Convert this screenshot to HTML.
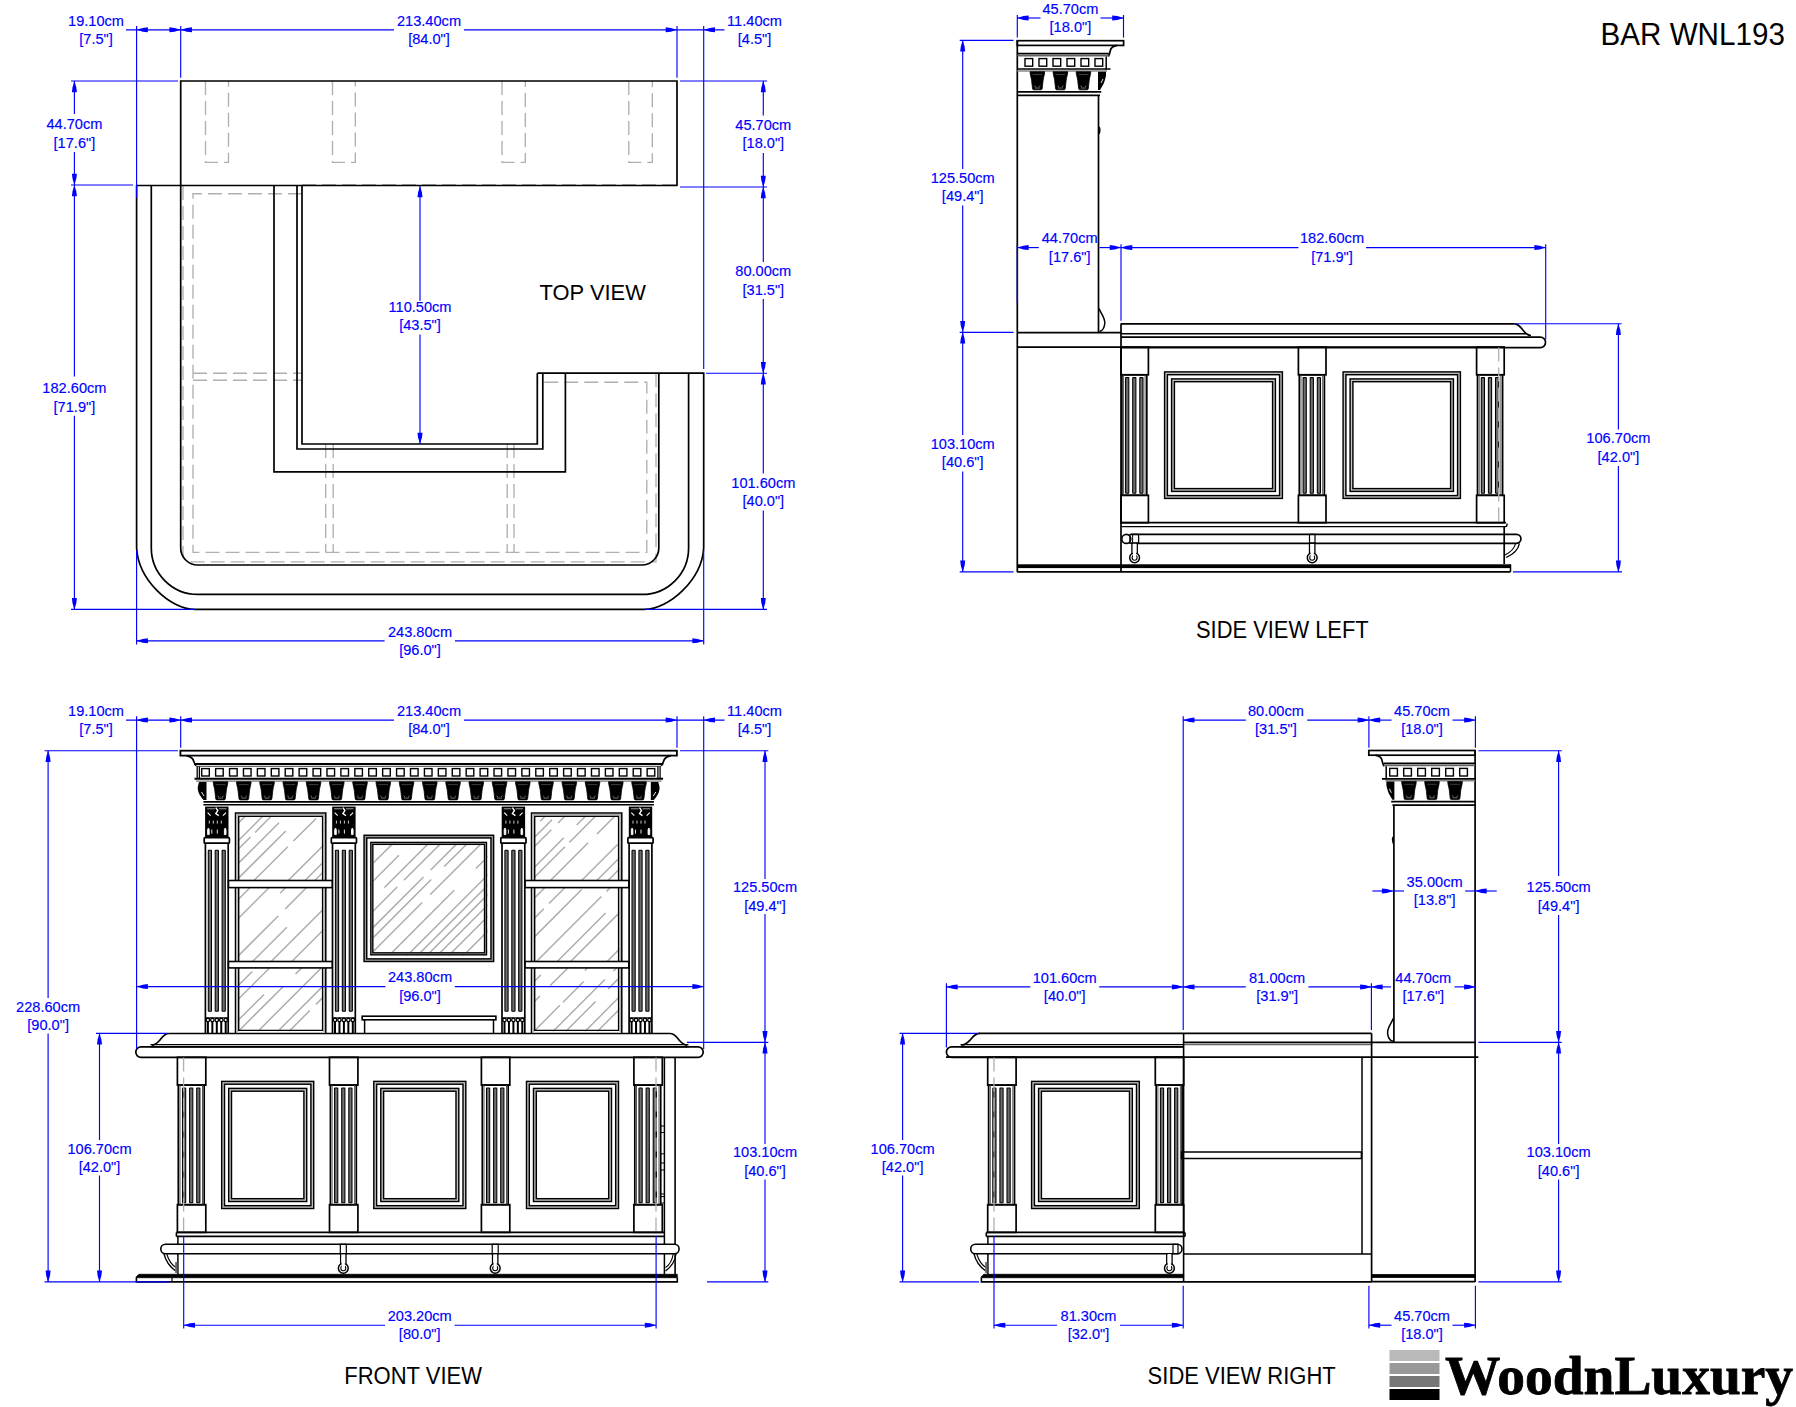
<!DOCTYPE html><html><head><meta charset="utf-8"><style>html,body{margin:0;padding:0;background:#fff;overflow:hidden}svg{display:block}</style></head><body><svg width="1796" height="1407" viewBox="0 0 1796 1407" font-family="&quot;Liberation Sans&quot;, sans-serif">
<rect width="1796" height="1407" fill="#fff"/>
<path d="M205.5,81 V162.4 H228.5 V81" stroke="#b0b0b0" stroke-width="1.35" fill="none" stroke-dasharray="14 6"/>
<path d="M332.5,81 V162.4 H355.3 V81" stroke="#b0b0b0" stroke-width="1.35" fill="none" stroke-dasharray="14 6"/>
<path d="M502,81 V162.4 H525.3 V81" stroke="#b0b0b0" stroke-width="1.35" fill="none" stroke-dasharray="14 6"/>
<path d="M628.8,81 V162.4 H652.3 V81" stroke="#b0b0b0" stroke-width="1.35" fill="none" stroke-dasharray="14 6"/>
<line x1="302.00" y1="184.60" x2="677.00" y2="184.60" stroke="#b0b0b0" stroke-width="1.35" stroke-dasharray="14 6"/>
<path d="M183,186 V553 Q183,561.8 192,561.8 H656 V373.2" stroke="#b0b0b0" stroke-width="1.35" fill="none" stroke-dasharray="14 6"/>
<path d="M302,193.7 H193 V552.3 H646.8 V382.2 H537.3" stroke="#b0b0b0" stroke-width="1.35" fill="none" stroke-dasharray="14 6"/>
<line x1="193.00" y1="373.20" x2="302.00" y2="373.20" stroke="#b0b0b0" stroke-width="1.35" stroke-dasharray="14 6"/>
<line x1="193.00" y1="380.20" x2="302.00" y2="380.20" stroke="#b0b0b0" stroke-width="1.35" stroke-dasharray="14 6"/>
<line x1="325.70" y1="444.00" x2="325.70" y2="552.30" stroke="#b0b0b0" stroke-width="1.35" stroke-dasharray="14 6"/>
<line x1="333.20" y1="444.00" x2="333.20" y2="552.30" stroke="#b0b0b0" stroke-width="1.35" stroke-dasharray="14 6"/>
<line x1="507.20" y1="444.00" x2="507.20" y2="552.30" stroke="#b0b0b0" stroke-width="1.35" stroke-dasharray="14 6"/>
<line x1="514.00" y1="444.00" x2="514.00" y2="552.30" stroke="#b0b0b0" stroke-width="1.35" stroke-dasharray="14 6"/>
<path d="M180.7,186 V81 H677 V186" stroke="#000" stroke-width="1.7" fill="none" />
<line x1="136.60" y1="185.50" x2="677.00" y2="185.50" stroke="#000" stroke-width="1.7"/>
<path d="M136.6,185 V548 C138.5,580 170,609.4 194.9,609.4 H644.3 C669,609.4 701.8,580 703.7,548 V373.2 H537.3" stroke="#000" stroke-width="1.7" fill="none" />
<path d="M151.3,185 V548 A46.5,46.5 0 0 0 197.8,594.4 H642.1 A46.5,46.5 0 0 0 688.6,547.9 V373.2" stroke="#000" stroke-width="1.7" fill="none" />
<path d="M180.7,185 V548 A17,17 0 0 0 197.7,565 H641.8 A17,17 0 0 0 658.8,548 V373.2" stroke="#000" stroke-width="1.7" fill="none" />
<path d="M274,185 V471.9 H565.4 V373.2" stroke="#000" stroke-width="1.7" fill="none" />
<path d="M297,185 V449 H542.8 V373.2" stroke="#000" stroke-width="1.7" fill="none" />
<path d="M302,185 V444 H537.3 V373.2" stroke="#000" stroke-width="1.7" fill="none" />
<text transform="translate(539.60,300.30) scale(1,1.03)" font-size="21.9" fill="#000" text-anchor="start" >TOP VIEW</text>
<line x1="1017.30" y1="40.20" x2="1017.30" y2="572.30" stroke="#000" stroke-width="1.7"/>
<rect x="1017.30" y="40.70" width="106.30" height="4.70" stroke="#000" stroke-width="1.7" fill="none"/>
<path d="M1117,45.4 C1113,46.3 1111,47.5 1110.5,50 C1110,52.5 1109.5,54.5 1108.3,56.5" stroke="#000" stroke-width="1.7" fill="none" />
<line x1="1017.30" y1="53.60" x2="1108.80" y2="53.60" stroke="#000" stroke-width="1.7"/>
<line x1="1017.30" y1="55.60" x2="1108.50" y2="55.60" stroke="#666" stroke-width="1.6"/>
<line x1="1106.20" y1="56.50" x2="1106.20" y2="69.50" stroke="#000" stroke-width="1.5"/>
<rect x="1025.00" y="58.60" width="7.70" height="7.60" stroke="#000" stroke-width="1.4" fill="none"/>
<rect x="1039.00" y="58.60" width="7.70" height="7.60" stroke="#000" stroke-width="1.4" fill="none"/>
<rect x="1053.00" y="58.60" width="7.70" height="7.60" stroke="#000" stroke-width="1.4" fill="none"/>
<rect x="1067.00" y="58.60" width="7.70" height="7.60" stroke="#000" stroke-width="1.4" fill="none"/>
<rect x="1081.00" y="58.60" width="7.70" height="7.60" stroke="#000" stroke-width="1.4" fill="none"/>
<rect x="1095.00" y="58.60" width="7.70" height="7.60" stroke="#000" stroke-width="1.4" fill="none"/>
<line x1="1017.30" y1="69.00" x2="1110.50" y2="69.00" stroke="#000" stroke-width="1.7"/>
<line x1="1017.30" y1="71.00" x2="1107.00" y2="71.00" stroke="#888" stroke-width="1.4"/>
<path d="M1030.00,71.70 H1044.70 C1044.40,75.32 1043.55,77.13 1043.05,80.75 L1042.15,88.80 Q1041.95,89.80 1040.95,89.80 H1033.75 Q1032.75,89.80 1032.55,88.80 L1031.65,80.75 C1031.15,77.13 1030.30,75.32 1030.00,71.70 Z" fill="#000" stroke="#000" stroke-width="0.8"/>
<path d="M1032.50,74.50 h9.70" stroke="#666" stroke-width="0.6"/>
<path d="M1034.35,85.80 l1.5,1 M1040.35,85.80 l-1.5,1 M1034.85,88.00 h5" stroke="#bbb" stroke-width="0.6"/>
<path d="M1053.05,71.70 H1067.75 C1067.45,75.32 1066.60,77.13 1066.10,80.75 L1065.20,88.80 Q1065.00,89.80 1064.00,89.80 H1056.80 Q1055.80,89.80 1055.60,88.80 L1054.70,80.75 C1054.20,77.13 1053.35,75.32 1053.05,71.70 Z" fill="#000" stroke="#000" stroke-width="0.8"/>
<path d="M1055.55,74.50 h9.70" stroke="#666" stroke-width="0.6"/>
<path d="M1057.40,85.80 l1.5,1 M1063.40,85.80 l-1.5,1 M1057.90,88.00 h5" stroke="#bbb" stroke-width="0.6"/>
<path d="M1076.10,71.70 H1090.80 C1090.50,75.32 1089.65,77.13 1089.15,80.75 L1088.25,88.80 Q1088.05,89.80 1087.05,89.80 H1079.85 Q1078.85,89.80 1078.65,88.80 L1077.75,80.75 C1077.25,77.13 1076.40,75.32 1076.10,71.70 Z" fill="#000" stroke="#000" stroke-width="0.8"/>
<path d="M1078.60,74.50 h9.70" stroke="#666" stroke-width="0.6"/>
<path d="M1080.45,85.80 l1.5,1 M1086.45,85.80 l-1.5,1 M1080.95,88.00 h5" stroke="#bbb" stroke-width="0.6"/>
<path d="M1098,71.7 H1106 C1106.5,76 1105,80 1103.5,84 L1100,90 H1098 Z" fill="#000"/>
<path d="M1101,83 l2,-4" stroke="#fff" stroke-width="0.9"/>
<line x1="1017.30" y1="91.80" x2="1101.20" y2="91.80" stroke="#000" stroke-width="1.7"/>
<line x1="1017.30" y1="95.30" x2="1100.00" y2="95.30" stroke="#000" stroke-width="1.7"/>
<line x1="1098.50" y1="95.30" x2="1098.50" y2="332.60" stroke="#000" stroke-width="1.7"/>
<path d="M1099,127 q1.8,1.5 0,7" stroke="#000" stroke-width="1.4" fill="none" />
<path d="M1099,308.5 C1100,312 1105.5,318 1104.8,323.5 C1104.3,328 1102,331 1099.5,331.5" stroke="#000" stroke-width="1.5" fill="none" />
<line x1="1017.30" y1="332.60" x2="1121.00" y2="332.60" stroke="#000" stroke-width="1.7"/>
<rect x="1017.3" y="564.3" width="104" height="3.8" fill="#000"/>
<line x1="1017.30" y1="571.80" x2="1121.00" y2="571.80" stroke="#000" stroke-width="1.7"/>
<line x1="1017.30" y1="347.20" x2="1505.00" y2="347.20" stroke="#000" stroke-width="1.7"/>
<line x1="1121.00" y1="323.40" x2="1121.00" y2="572.00" stroke="#000" stroke-width="1.7"/>
<path d="M1121,323.8 H1514.2" stroke="#000" stroke-width="1.7" fill="none" />
<path d="M1514.20,323.80 C1519.24,323.80 1520.92,327.89 1523.44,330.82 C1525.96,333.75 1527.64,335.50 1531.00,335.50" stroke="#000" stroke-width="1.7" fill="none" />
<line x1="1121.00" y1="333.80" x2="1527.00" y2="333.80" stroke="#000" stroke-width="1.5"/>
<path d="M1121,337.1 H1540.3 A5.25,5.25 0 0 1 1540.3,347.6 H1121" stroke="#000" stroke-width="1.7" fill="none" />
<rect x="1121.00" y="347.20" width="27.40" height="27.60" stroke="#000" stroke-width="1.7" fill="none"/>
<rect x="1121.90" y="374.80" width="24.90" height="120.50" stroke="#000" stroke-width="1.7" fill="none"/>
<rect x="1121.00" y="495.30" width="27.40" height="27.40" stroke="#000" stroke-width="1.7" fill="none"/>
<line x1="1123.60" y1="374.80" x2="1123.60" y2="495.30" stroke="#444" stroke-width="0.9"/>
<line x1="1145.10" y1="374.80" x2="1145.10" y2="495.30" stroke="#444" stroke-width="0.9"/>
<rect x="1125.60" y="377.60" width="3.20" height="115.70" rx="0.5" fill="#6e6e6e" stroke="#000" stroke-width="1.05"/>
<rect x="1132.70" y="377.60" width="3.20" height="115.70" rx="0.5" fill="#6e6e6e" stroke="#000" stroke-width="1.05"/>
<rect x="1139.80" y="377.60" width="3.20" height="115.70" rx="0.5" fill="#6e6e6e" stroke="#000" stroke-width="1.05"/>
<rect x="1298.40" y="347.20" width="27.60" height="27.60" stroke="#000" stroke-width="1.7" fill="none"/>
<rect x="1299.30" y="374.80" width="25.10" height="120.50" stroke="#000" stroke-width="1.7" fill="none"/>
<rect x="1298.40" y="495.30" width="27.60" height="27.40" stroke="#000" stroke-width="1.7" fill="none"/>
<line x1="1301.00" y1="374.80" x2="1301.00" y2="495.30" stroke="#444" stroke-width="0.9"/>
<line x1="1322.70" y1="374.80" x2="1322.70" y2="495.30" stroke="#444" stroke-width="0.9"/>
<rect x="1303.10" y="377.60" width="3.20" height="115.70" rx="0.5" fill="#6e6e6e" stroke="#000" stroke-width="1.05"/>
<rect x="1310.20" y="377.60" width="3.20" height="115.70" rx="0.5" fill="#6e6e6e" stroke="#000" stroke-width="1.05"/>
<rect x="1317.30" y="377.60" width="3.20" height="115.70" rx="0.5" fill="#6e6e6e" stroke="#000" stroke-width="1.05"/>
<rect x="1476.60" y="347.20" width="27.60" height="27.60" stroke="#000" stroke-width="1.7" fill="none"/>
<rect x="1477.50" y="374.80" width="25.10" height="120.50" stroke="#000" stroke-width="1.7" fill="none"/>
<rect x="1476.60" y="495.30" width="27.60" height="27.40" stroke="#000" stroke-width="1.7" fill="none"/>
<line x1="1479.20" y1="374.80" x2="1479.20" y2="495.30" stroke="#444" stroke-width="0.9"/>
<line x1="1500.90" y1="374.80" x2="1500.90" y2="495.30" stroke="#444" stroke-width="0.9"/>
<rect x="1481.30" y="377.60" width="3.20" height="115.70" rx="0.5" fill="#6e6e6e" stroke="#000" stroke-width="1.05"/>
<rect x="1488.40" y="377.60" width="3.20" height="115.70" rx="0.5" fill="#6e6e6e" stroke="#000" stroke-width="1.05"/>
<rect x="1495.50" y="377.60" width="3.20" height="115.70" rx="0.5" fill="#6e6e6e" stroke="#000" stroke-width="1.05"/>
<rect x="1166.00" y="373.30" width="115.00" height="123.70" fill="none" stroke="#c4c4c4" stroke-width="2.6"/>
<rect x="1173.00" y="380.30" width="101.00" height="109.70" fill="none" stroke="#c4c4c4" stroke-width="2.6"/>
<rect x="1164.60" y="371.90" width="117.80" height="126.50" stroke="#000" stroke-width="1.45" fill="none"/>
<rect x="1167.40" y="374.70" width="112.20" height="120.90" stroke="#000" stroke-width="1.45" fill="none"/>
<rect x="1171.60" y="378.90" width="103.80" height="112.50" stroke="#000" stroke-width="1.45" fill="none"/>
<rect x="1174.40" y="381.70" width="98.20" height="106.90" stroke="#000" stroke-width="1.45" fill="none"/>
<rect x="1344.50" y="373.30" width="114.50" height="123.70" fill="none" stroke="#c4c4c4" stroke-width="2.6"/>
<rect x="1351.50" y="380.30" width="100.50" height="109.70" fill="none" stroke="#c4c4c4" stroke-width="2.6"/>
<rect x="1343.10" y="371.90" width="117.30" height="126.50" stroke="#000" stroke-width="1.45" fill="none"/>
<rect x="1345.90" y="374.70" width="111.70" height="120.90" stroke="#000" stroke-width="1.45" fill="none"/>
<rect x="1350.10" y="378.90" width="103.30" height="112.50" stroke="#000" stroke-width="1.45" fill="none"/>
<rect x="1352.90" y="381.70" width="97.70" height="106.90" stroke="#000" stroke-width="1.45" fill="none"/>
<line x1="1498.70" y1="347.50" x2="1498.70" y2="522.00" stroke="#b0b0b0" stroke-width="1.3" stroke-dasharray="14 6"/>
<line x1="1121.00" y1="522.70" x2="1506.00" y2="522.70" stroke="#000" stroke-width="1.8"/>
<path d="M1121,526.6 H1505.5 q1.5,0 1.5,-2 v-1" stroke="#000" stroke-width="1.4" fill="none" />
<line x1="1504.20" y1="526.60" x2="1504.20" y2="564.00" stroke="#000" stroke-width="1.7"/>
<path d="M1131,534.4 H1516.5 A4.45,4.45 0 0 1 1516.5,543.3 H1131" stroke="#000" stroke-width="1.7" fill="none" />
<circle cx="1126.3" cy="538.9" r="4.5" fill="#fff" stroke="#000" stroke-width="1.6"/>
<rect x="1129.90" y="534.40" width="8.70" height="8.90" stroke="#000" stroke-width="1.3" fill="none"/>
<line x1="1132.60" y1="534.60" x2="1132.60" y2="543.00" stroke="#000" stroke-width="1"/>
<rect x="1131.90" y="543.30" width="5.4" height="14.50" fill="#fff" stroke="#000" stroke-width="1.3"/>
<circle cx="1134.60" cy="557.80" r="4.9" fill="#fff" stroke="#000" stroke-width="1.5"/>
<circle cx="1134.60" cy="557.80" r="2.5" fill="#fff" stroke="#000" stroke-width="1.1"/>
<rect x="1133.00" y="543.80" width="3.2" height="13.50" fill="#fff"/>
<rect x="1309.50" y="543.30" width="5.4" height="14.50" fill="#fff" stroke="#000" stroke-width="1.3"/>
<circle cx="1312.20" cy="557.80" r="4.9" fill="#fff" stroke="#000" stroke-width="1.5"/>
<circle cx="1312.20" cy="557.80" r="2.5" fill="#fff" stroke="#000" stroke-width="1.1"/>
<rect x="1310.60" y="543.80" width="3.2" height="13.50" fill="#fff"/>
<rect x="1309.50" y="534.40" width="5.50" height="8.90" stroke="#000" stroke-width="1.2" fill="none"/>
<path d="M1519.5,543.3 C1518,550 1512,555 1506,557.5" stroke="#000" stroke-width="1.3" fill="none" />
<path d="M1515.5,543.8 C1514,549 1509,553 1505,555" stroke="#000" stroke-width="1.1" fill="none" />
<rect x="1121" y="564.3" width="389.5" height="3.8" fill="#000"/>
<line x1="1121.00" y1="571.80" x2="1510.50" y2="571.80" stroke="#000" stroke-width="1.7"/>
<line x1="1510.50" y1="564.30" x2="1510.50" y2="571.80" stroke="#000" stroke-width="1.5"/>
<text transform="translate(1196.00,638.40) scale(1,1.05)" font-size="21.9" fill="#000" text-anchor="start" >SIDE VIEW LEFT</text>
<clipPath id="c11"><rect x="237.50" y="815.50" width="86.00" height="65.00"/></clipPath>
<g clip-path="url(#c11)" stroke="#acacac" stroke-width="1.45">
<path d="M218.1,828.1L230.7,815.5M180.9,880.5L229.0,832.3M232.6,828.8L245.9,815.5M232.5,846.5L263.5,815.5M206.9,880.5L250.5,837.0M255.1,832.4L271.9,815.5M221.1,880.5L279.0,822.7M236.1,880.5L285.8,830.9M253.9,880.5L287.8,846.7M293.4,841.0L316.1,818.4M322.1,832.0L338.6,815.5M288.2,880.5L352.3,816.4M305.0,880.5L359.9,825.6M314.8,880.5L345.5,849.8M348.7,846.6L379.8,815.5" fill="none"/>
</g>
<clipPath id="c21"><rect x="237.50" y="887.60" width="86.00" height="73.90"/></clipPath>
<g clip-path="url(#c21)" stroke="#acacac" stroke-width="1.45">
<path d="M161.1,961.5L219.0,903.6M227.6,895.0L235.0,887.6M176.3,961.5L224.6,913.2M227.6,910.2L250.2,887.6M195.3,961.5L229.4,927.3M232.9,923.9L269.2,887.6M211.8,961.5L235.8,937.6M280.1,893.3L285.7,887.6M232.6,961.5L278.2,915.9M285.2,908.9L306.5,887.6M252.5,961.5L286.9,927.2M271.1,961.5L323.3,909.3M327.7,904.9L345.0,887.6M291.8,961.5L359.9,893.4M355.8,911.8L379.4,888.3" fill="none"/>
</g>
<clipPath id="c31"><rect x="237.50" y="967.90" width="86.00" height="63.50"/></clipPath>
<g clip-path="url(#c31)" stroke="#acacac" stroke-width="1.45">
<path d="M173.8,1031.4L197.9,1007.4M207.4,997.9L232.6,972.7M192.3,1031.4L217.9,1005.8M227.2,996.5L252.3,971.4M206.1,1031.4L269.5,968.1M227.1,1031.4L264.0,994.4M238.2,1031.4L283.3,986.4M295.5,974.1L301.7,967.9M257.8,1031.4L320.8,968.4M277.7,1031.4L325.7,983.4M336.4,972.8L341.2,967.9M289.0,1031.4L309.8,1010.5M315.8,1004.6L352.4,967.9M322.6,1031.4L349.5,1004.5M357.5,996.4L386.1,967.9" fill="none"/>
</g>
<clipPath id="c12"><rect x="533.80" y="815.50" width="85.80" height="65.00"/></clipPath>
<g clip-path="url(#c12)" stroke="#acacac" stroke-width="1.45">
<path d="M461.7,880.5L511.1,831.1M515.2,827.0L526.7,815.5M480.9,880.5L531.8,829.6M540.2,821.2L545.9,815.5M491.3,880.5L552.0,819.8M500.6,880.5L551.3,829.7M558.1,822.9L565.6,815.5M521.2,880.5L563.8,837.8M576.7,825.0L586.2,815.5M531.2,880.5L565.0,846.8M569.3,842.5L596.2,815.5M550.5,880.5L588.2,842.8M597.0,834.0L615.5,815.5M581.6,880.5L617.6,844.5M627.3,834.9L646.6,815.5M596.8,880.5L653.1,824.1M656.0,821.2L661.8,815.5M608.0,880.5L647.0,841.6M657.6,830.9L673.0,815.5" fill="none"/>
</g>
<clipPath id="c22"><rect x="533.80" y="887.60" width="85.80" height="73.90"/></clipPath>
<g clip-path="url(#c22)" stroke="#acacac" stroke-width="1.45">
<path d="M445.5,961.5L475.0,932.1M489.7,917.3L519.4,887.6M458.4,961.5L526.6,893.3M535.3,897.2L544.9,887.6M491.2,961.5L543.8,908.8M549.0,903.6L565.1,887.6M509.9,961.5L581.7,889.6M536.5,961.5L601.4,896.6M606.5,891.5L610.4,887.6M557.3,961.5L605.6,913.1M570.6,961.5L622.9,909.2M632.9,899.2L644.5,887.6M619.8,927.6L659.9,887.6M607.1,961.5L655.7,912.8M659.8,908.7L681.0,887.6" fill="none"/>
</g>
<clipPath id="c32"><rect x="533.80" y="967.90" width="85.80" height="63.50"/></clipPath>
<g clip-path="url(#c32)" stroke="#acacac" stroke-width="1.45">
<path d="M469.1,1031.4L497.7,1002.9M509.4,991.2L532.6,967.9M484.3,1031.4L540.8,974.9M504.4,1031.4L540.0,995.9M550.2,985.6L567.9,967.9M584.9,970.6L587.5,967.9M533.8,1031.4L559.9,1005.3M563.0,1002.2L583.7,981.5M553.0,1031.4L604.9,979.5M613.3,971.1L616.5,967.9M565.7,1031.4L595.6,1001.5M608.2,988.9L629.2,967.9M585.0,1031.4L623.8,992.5M627.3,989.1L648.5,967.9M597.3,1031.4L633.4,995.3M670.6,979.2L681.9,967.9" fill="none"/>
</g>
<clipPath id="c13"><rect x="369.80" y="841.40" width="117.70" height="114.40"/></clipPath>
<g clip-path="url(#c13)" stroke="#acacac" stroke-width="1.45">
<path d="M251.8,955.8L341.0,866.6M361.1,846.5L366.2,841.4M262.3,955.8L355.4,862.7M369.7,848.4L376.7,841.4M280.6,955.8L363.6,872.8M373.2,863.1L395.0,841.4M298.4,955.8L398.9,855.3M316.1,955.8L371.0,900.9M384.5,887.4L430.5,841.4M328.4,955.8L397.2,887.1M403.9,880.3L442.8,841.4M344.8,955.8L423.5,877.1M430.6,870.1L459.2,841.4M355.1,955.8L431.2,879.6M444.2,866.6L469.5,841.4M369.0,955.8L422.1,902.6M430.3,894.5L483.4,841.4M388.7,955.8L454.2,890.3M475.9,868.6L503.1,841.4M406.9,955.8L492.4,870.3M417.2,955.8L519.9,853.1M426.6,955.8L538.7,843.7M437.0,955.8L520.7,872.1M536.1,856.7L551.4,841.4M448.4,955.8L495.9,908.3M502.5,901.7L554.9,849.3M463.1,955.8L540.9,878.0M553.6,865.3L577.5,841.4M483.4,955.8L527.4,911.7M536.9,902.3L597.8,841.4" fill="none"/>
</g>
<rect x="180.40" y="750.70" width="496.50" height="4.90" stroke="#000" stroke-width="1.8" fill="none"/>
<path d="M186.5,755.6 C190,756.5 192,757.5 193,759.5 C194,761.5 194.5,764 196,765.8" stroke="#000" stroke-width="1.7" fill="none" />
<path d="M670.8,755.6 C667.3,756.5 665.3,757.5 664.3,759.5 C663.3,761.5 662.8,764 661.3,765.8" stroke="#000" stroke-width="1.7" fill="none" />
<line x1="194.00" y1="764.00" x2="663.30" y2="764.00" stroke="#000" stroke-width="1.9"/>
<line x1="196.00" y1="766.40" x2="661.30" y2="766.40" stroke="#666" stroke-width="1.2"/>
<line x1="197.20" y1="766.50" x2="197.20" y2="778.00" stroke="#000" stroke-width="1.3"/>
<line x1="199.40" y1="766.50" x2="199.40" y2="778.00" stroke="#000" stroke-width="1.3"/>
<line x1="660.10" y1="766.50" x2="660.10" y2="778.00" stroke="#000" stroke-width="1.3"/>
<line x1="657.90" y1="766.50" x2="657.90" y2="778.00" stroke="#000" stroke-width="1.3"/>
<rect x="201.70" y="768.60" width="7.60" height="7.40" stroke="#000" stroke-width="1.4" fill="none"/>
<rect x="215.62" y="768.60" width="7.60" height="7.40" stroke="#000" stroke-width="1.4" fill="none"/>
<rect x="229.54" y="768.60" width="7.60" height="7.40" stroke="#000" stroke-width="1.4" fill="none"/>
<rect x="243.46" y="768.60" width="7.60" height="7.40" stroke="#000" stroke-width="1.4" fill="none"/>
<rect x="257.38" y="768.60" width="7.60" height="7.40" stroke="#000" stroke-width="1.4" fill="none"/>
<rect x="271.30" y="768.60" width="7.60" height="7.40" stroke="#000" stroke-width="1.4" fill="none"/>
<rect x="285.22" y="768.60" width="7.60" height="7.40" stroke="#000" stroke-width="1.4" fill="none"/>
<rect x="299.14" y="768.60" width="7.60" height="7.40" stroke="#000" stroke-width="1.4" fill="none"/>
<rect x="313.06" y="768.60" width="7.60" height="7.40" stroke="#000" stroke-width="1.4" fill="none"/>
<rect x="326.98" y="768.60" width="7.60" height="7.40" stroke="#000" stroke-width="1.4" fill="none"/>
<rect x="340.90" y="768.60" width="7.60" height="7.40" stroke="#000" stroke-width="1.4" fill="none"/>
<rect x="354.82" y="768.60" width="7.60" height="7.40" stroke="#000" stroke-width="1.4" fill="none"/>
<rect x="368.74" y="768.60" width="7.60" height="7.40" stroke="#000" stroke-width="1.4" fill="none"/>
<rect x="382.66" y="768.60" width="7.60" height="7.40" stroke="#000" stroke-width="1.4" fill="none"/>
<rect x="396.58" y="768.60" width="7.60" height="7.40" stroke="#000" stroke-width="1.4" fill="none"/>
<rect x="410.50" y="768.60" width="7.60" height="7.40" stroke="#000" stroke-width="1.4" fill="none"/>
<rect x="424.42" y="768.60" width="7.60" height="7.40" stroke="#000" stroke-width="1.4" fill="none"/>
<rect x="438.34" y="768.60" width="7.60" height="7.40" stroke="#000" stroke-width="1.4" fill="none"/>
<rect x="452.26" y="768.60" width="7.60" height="7.40" stroke="#000" stroke-width="1.4" fill="none"/>
<rect x="466.18" y="768.60" width="7.60" height="7.40" stroke="#000" stroke-width="1.4" fill="none"/>
<rect x="480.10" y="768.60" width="7.60" height="7.40" stroke="#000" stroke-width="1.4" fill="none"/>
<rect x="494.02" y="768.60" width="7.60" height="7.40" stroke="#000" stroke-width="1.4" fill="none"/>
<rect x="507.94" y="768.60" width="7.60" height="7.40" stroke="#000" stroke-width="1.4" fill="none"/>
<rect x="521.86" y="768.60" width="7.60" height="7.40" stroke="#000" stroke-width="1.4" fill="none"/>
<rect x="535.78" y="768.60" width="7.60" height="7.40" stroke="#000" stroke-width="1.4" fill="none"/>
<rect x="549.70" y="768.60" width="7.60" height="7.40" stroke="#000" stroke-width="1.4" fill="none"/>
<rect x="563.62" y="768.60" width="7.60" height="7.40" stroke="#000" stroke-width="1.4" fill="none"/>
<rect x="577.54" y="768.60" width="7.60" height="7.40" stroke="#000" stroke-width="1.4" fill="none"/>
<rect x="591.46" y="768.60" width="7.60" height="7.40" stroke="#000" stroke-width="1.4" fill="none"/>
<rect x="605.38" y="768.60" width="7.60" height="7.40" stroke="#000" stroke-width="1.4" fill="none"/>
<rect x="619.30" y="768.60" width="7.60" height="7.40" stroke="#000" stroke-width="1.4" fill="none"/>
<rect x="633.22" y="768.60" width="7.60" height="7.40" stroke="#000" stroke-width="1.4" fill="none"/>
<rect x="647.14" y="768.60" width="7.60" height="7.40" stroke="#000" stroke-width="1.4" fill="none"/>
<line x1="194.50" y1="778.70" x2="663.00" y2="778.70" stroke="#000" stroke-width="2.0"/>
<line x1="196.00" y1="781.10" x2="661.50" y2="781.10" stroke="#777" stroke-width="1.3"/>
<path d="M213.20,781.80 H227.90 C227.60,785.42 226.75,787.23 226.25,790.85 L225.35,798.90 Q225.15,799.90 224.15,799.90 H216.95 Q215.95,799.90 215.75,798.90 L214.85,790.85 C214.35,787.23 213.50,785.42 213.20,781.80 Z" fill="#000" stroke="#000" stroke-width="0.8"/>
<path d="M215.70,784.60 h9.70" stroke="#666" stroke-width="0.6"/>
<path d="M217.55,795.90 l1.5,1 M223.55,795.90 l-1.5,1 M218.05,798.10 h5" stroke="#bbb" stroke-width="0.6"/>
<path d="M236.45,781.80 H251.15 C250.85,785.42 250.00,787.23 249.50,790.85 L248.60,798.90 Q248.40,799.90 247.40,799.90 H240.20 Q239.20,799.90 239.00,798.90 L238.10,790.85 C237.60,787.23 236.75,785.42 236.45,781.80 Z" fill="#000" stroke="#000" stroke-width="0.8"/>
<path d="M238.95,784.60 h9.70" stroke="#666" stroke-width="0.6"/>
<path d="M240.80,795.90 l1.5,1 M246.80,795.90 l-1.5,1 M241.30,798.10 h5" stroke="#bbb" stroke-width="0.6"/>
<path d="M259.70,781.80 H274.40 C274.10,785.42 273.25,787.23 272.75,790.85 L271.85,798.90 Q271.65,799.90 270.65,799.90 H263.45 Q262.45,799.90 262.25,798.90 L261.35,790.85 C260.85,787.23 260.00,785.42 259.70,781.80 Z" fill="#000" stroke="#000" stroke-width="0.8"/>
<path d="M262.20,784.60 h9.70" stroke="#666" stroke-width="0.6"/>
<path d="M264.05,795.90 l1.5,1 M270.05,795.90 l-1.5,1 M264.55,798.10 h5" stroke="#bbb" stroke-width="0.6"/>
<path d="M282.95,781.80 H297.65 C297.35,785.42 296.50,787.23 296.00,790.85 L295.10,798.90 Q294.90,799.90 293.90,799.90 H286.70 Q285.70,799.90 285.50,798.90 L284.60,790.85 C284.10,787.23 283.25,785.42 282.95,781.80 Z" fill="#000" stroke="#000" stroke-width="0.8"/>
<path d="M285.45,784.60 h9.70" stroke="#666" stroke-width="0.6"/>
<path d="M287.30,795.90 l1.5,1 M293.30,795.90 l-1.5,1 M287.80,798.10 h5" stroke="#bbb" stroke-width="0.6"/>
<path d="M306.20,781.80 H320.90 C320.60,785.42 319.75,787.23 319.25,790.85 L318.35,798.90 Q318.15,799.90 317.15,799.90 H309.95 Q308.95,799.90 308.75,798.90 L307.85,790.85 C307.35,787.23 306.50,785.42 306.20,781.80 Z" fill="#000" stroke="#000" stroke-width="0.8"/>
<path d="M308.70,784.60 h9.70" stroke="#666" stroke-width="0.6"/>
<path d="M310.55,795.90 l1.5,1 M316.55,795.90 l-1.5,1 M311.05,798.10 h5" stroke="#bbb" stroke-width="0.6"/>
<path d="M329.45,781.80 H344.15 C343.85,785.42 343.00,787.23 342.50,790.85 L341.60,798.90 Q341.40,799.90 340.40,799.90 H333.20 Q332.20,799.90 332.00,798.90 L331.10,790.85 C330.60,787.23 329.75,785.42 329.45,781.80 Z" fill="#000" stroke="#000" stroke-width="0.8"/>
<path d="M331.95,784.60 h9.70" stroke="#666" stroke-width="0.6"/>
<path d="M333.80,795.90 l1.5,1 M339.80,795.90 l-1.5,1 M334.30,798.10 h5" stroke="#bbb" stroke-width="0.6"/>
<path d="M352.70,781.80 H367.40 C367.10,785.42 366.25,787.23 365.75,790.85 L364.85,798.90 Q364.65,799.90 363.65,799.90 H356.45 Q355.45,799.90 355.25,798.90 L354.35,790.85 C353.85,787.23 353.00,785.42 352.70,781.80 Z" fill="#000" stroke="#000" stroke-width="0.8"/>
<path d="M355.20,784.60 h9.70" stroke="#666" stroke-width="0.6"/>
<path d="M357.05,795.90 l1.5,1 M363.05,795.90 l-1.5,1 M357.55,798.10 h5" stroke="#bbb" stroke-width="0.6"/>
<path d="M375.95,781.80 H390.65 C390.35,785.42 389.50,787.23 389.00,790.85 L388.10,798.90 Q387.90,799.90 386.90,799.90 H379.70 Q378.70,799.90 378.50,798.90 L377.60,790.85 C377.10,787.23 376.25,785.42 375.95,781.80 Z" fill="#000" stroke="#000" stroke-width="0.8"/>
<path d="M378.45,784.60 h9.70" stroke="#666" stroke-width="0.6"/>
<path d="M380.30,795.90 l1.5,1 M386.30,795.90 l-1.5,1 M380.80,798.10 h5" stroke="#bbb" stroke-width="0.6"/>
<path d="M399.20,781.80 H413.90 C413.60,785.42 412.75,787.23 412.25,790.85 L411.35,798.90 Q411.15,799.90 410.15,799.90 H402.95 Q401.95,799.90 401.75,798.90 L400.85,790.85 C400.35,787.23 399.50,785.42 399.20,781.80 Z" fill="#000" stroke="#000" stroke-width="0.8"/>
<path d="M401.70,784.60 h9.70" stroke="#666" stroke-width="0.6"/>
<path d="M403.55,795.90 l1.5,1 M409.55,795.90 l-1.5,1 M404.05,798.10 h5" stroke="#bbb" stroke-width="0.6"/>
<path d="M422.45,781.80 H437.15 C436.85,785.42 436.00,787.23 435.50,790.85 L434.60,798.90 Q434.40,799.90 433.40,799.90 H426.20 Q425.20,799.90 425.00,798.90 L424.10,790.85 C423.60,787.23 422.75,785.42 422.45,781.80 Z" fill="#000" stroke="#000" stroke-width="0.8"/>
<path d="M424.95,784.60 h9.70" stroke="#666" stroke-width="0.6"/>
<path d="M426.80,795.90 l1.5,1 M432.80,795.90 l-1.5,1 M427.30,798.10 h5" stroke="#bbb" stroke-width="0.6"/>
<path d="M445.70,781.80 H460.40 C460.10,785.42 459.25,787.23 458.75,790.85 L457.85,798.90 Q457.65,799.90 456.65,799.90 H449.45 Q448.45,799.90 448.25,798.90 L447.35,790.85 C446.85,787.23 446.00,785.42 445.70,781.80 Z" fill="#000" stroke="#000" stroke-width="0.8"/>
<path d="M448.20,784.60 h9.70" stroke="#666" stroke-width="0.6"/>
<path d="M450.05,795.90 l1.5,1 M456.05,795.90 l-1.5,1 M450.55,798.10 h5" stroke="#bbb" stroke-width="0.6"/>
<path d="M468.95,781.80 H483.65 C483.35,785.42 482.50,787.23 482.00,790.85 L481.10,798.90 Q480.90,799.90 479.90,799.90 H472.70 Q471.70,799.90 471.50,798.90 L470.60,790.85 C470.10,787.23 469.25,785.42 468.95,781.80 Z" fill="#000" stroke="#000" stroke-width="0.8"/>
<path d="M471.45,784.60 h9.70" stroke="#666" stroke-width="0.6"/>
<path d="M473.30,795.90 l1.5,1 M479.30,795.90 l-1.5,1 M473.80,798.10 h5" stroke="#bbb" stroke-width="0.6"/>
<path d="M492.20,781.80 H506.90 C506.60,785.42 505.75,787.23 505.25,790.85 L504.35,798.90 Q504.15,799.90 503.15,799.90 H495.95 Q494.95,799.90 494.75,798.90 L493.85,790.85 C493.35,787.23 492.50,785.42 492.20,781.80 Z" fill="#000" stroke="#000" stroke-width="0.8"/>
<path d="M494.70,784.60 h9.70" stroke="#666" stroke-width="0.6"/>
<path d="M496.55,795.90 l1.5,1 M502.55,795.90 l-1.5,1 M497.05,798.10 h5" stroke="#bbb" stroke-width="0.6"/>
<path d="M515.45,781.80 H530.15 C529.85,785.42 529.00,787.23 528.50,790.85 L527.60,798.90 Q527.40,799.90 526.40,799.90 H519.20 Q518.20,799.90 518.00,798.90 L517.10,790.85 C516.60,787.23 515.75,785.42 515.45,781.80 Z" fill="#000" stroke="#000" stroke-width="0.8"/>
<path d="M517.95,784.60 h9.70" stroke="#666" stroke-width="0.6"/>
<path d="M519.80,795.90 l1.5,1 M525.80,795.90 l-1.5,1 M520.30,798.10 h5" stroke="#bbb" stroke-width="0.6"/>
<path d="M538.70,781.80 H553.40 C553.10,785.42 552.25,787.23 551.75,790.85 L550.85,798.90 Q550.65,799.90 549.65,799.90 H542.45 Q541.45,799.90 541.25,798.90 L540.35,790.85 C539.85,787.23 539.00,785.42 538.70,781.80 Z" fill="#000" stroke="#000" stroke-width="0.8"/>
<path d="M541.20,784.60 h9.70" stroke="#666" stroke-width="0.6"/>
<path d="M543.05,795.90 l1.5,1 M549.05,795.90 l-1.5,1 M543.55,798.10 h5" stroke="#bbb" stroke-width="0.6"/>
<path d="M561.95,781.80 H576.65 C576.35,785.42 575.50,787.23 575.00,790.85 L574.10,798.90 Q573.90,799.90 572.90,799.90 H565.70 Q564.70,799.90 564.50,798.90 L563.60,790.85 C563.10,787.23 562.25,785.42 561.95,781.80 Z" fill="#000" stroke="#000" stroke-width="0.8"/>
<path d="M564.45,784.60 h9.70" stroke="#666" stroke-width="0.6"/>
<path d="M566.30,795.90 l1.5,1 M572.30,795.90 l-1.5,1 M566.80,798.10 h5" stroke="#bbb" stroke-width="0.6"/>
<path d="M585.20,781.80 H599.90 C599.60,785.42 598.75,787.23 598.25,790.85 L597.35,798.90 Q597.15,799.90 596.15,799.90 H588.95 Q587.95,799.90 587.75,798.90 L586.85,790.85 C586.35,787.23 585.50,785.42 585.20,781.80 Z" fill="#000" stroke="#000" stroke-width="0.8"/>
<path d="M587.70,784.60 h9.70" stroke="#666" stroke-width="0.6"/>
<path d="M589.55,795.90 l1.5,1 M595.55,795.90 l-1.5,1 M590.05,798.10 h5" stroke="#bbb" stroke-width="0.6"/>
<path d="M608.45,781.80 H623.15 C622.85,785.42 622.00,787.23 621.50,790.85 L620.60,798.90 Q620.40,799.90 619.40,799.90 H612.20 Q611.20,799.90 611.00,798.90 L610.10,790.85 C609.60,787.23 608.75,785.42 608.45,781.80 Z" fill="#000" stroke="#000" stroke-width="0.8"/>
<path d="M610.95,784.60 h9.70" stroke="#666" stroke-width="0.6"/>
<path d="M612.80,795.90 l1.5,1 M618.80,795.90 l-1.5,1 M613.30,798.10 h5" stroke="#bbb" stroke-width="0.6"/>
<path d="M631.70,781.80 H646.40 C646.10,785.42 645.25,787.23 644.75,790.85 L643.85,798.90 Q643.65,799.90 642.65,799.90 H635.45 Q634.45,799.90 634.25,798.90 L633.35,790.85 C632.85,787.23 632.00,785.42 631.70,781.80 Z" fill="#000" stroke="#000" stroke-width="0.8"/>
<path d="M634.20,784.60 h9.70" stroke="#666" stroke-width="0.6"/>
<path d="M636.05,795.90 l1.5,1 M642.05,795.90 l-1.5,1 M636.55,798.10 h5" stroke="#bbb" stroke-width="0.6"/>
<path d="M199,782 H206.5 V800 H203.5 C199,795 197,790 198,786 Z" fill="#000"/>
<path d="M658.3,782 H650.8 V800 H653.8 C658.3,795 660.3,790 659.3,786 Z" fill="#000"/>
<path d="M201.5,792 l2.5,4 M655.8,792 l-2.5,4" stroke="#fff" stroke-width="0.9"/>
<line x1="203.40" y1="801.90" x2="653.90" y2="801.90" stroke="#000" stroke-width="1.8"/>
<line x1="203.40" y1="804.70" x2="653.90" y2="804.70" stroke="#000" stroke-width="1.6"/>
<rect x="205.10" y="806.60" width="23.40" height="31.80" fill="#000"/>
<path d="M207.10,808.80 h7.72 M218.78,808.80 h7.72" stroke="#ccc" stroke-width="0.8"/>
<path d="M215.80,807.60 l2,3 l-2,3 l3,2" stroke="#fff" stroke-width="1.4" fill="none"/>
<path d="M207.60,812.60 l3,3 M226.00,812.60 l-3,3" stroke="#fff" stroke-width="1.1"/>
<path d="M209.30,820.60 v3" stroke="#fff" stroke-width="0.8"/>
<path d="M213.30,820.60 v3" stroke="#fff" stroke-width="0.8"/>
<path d="M217.30,820.60 v3" stroke="#fff" stroke-width="0.8"/>
<path d="M221.30,820.60 v3" stroke="#fff" stroke-width="0.8"/>
<path d="M207.60,829.60 q0.8,-3 1.6,0 v5 h-1.6 z M226.00,829.60 q-0.8,-3 -1.6,0 v5 h1.6 z M211.80,829.60 v4 M217.30,829.60 v4" stroke="#fff" stroke-width="0.9" fill="#fff"/>
<rect x="204.20" y="837.6" width="25.20" height="5.6" rx="0.8" fill="#fff" stroke="#000" stroke-width="1.7"/>
<line x1="205.40" y1="843.20" x2="205.40" y2="1033.50" stroke="#000" stroke-width="1.7"/>
<line x1="228.20" y1="843.20" x2="228.20" y2="1033.50" stroke="#000" stroke-width="1.7"/>
<rect x="208.30" y="850.20" width="3.20" height="161.10" rx="0.5" fill="#6e6e6e" stroke="#000" stroke-width="1.05"/>
<rect x="215.20" y="850.20" width="3.20" height="161.10" rx="0.5" fill="#6e6e6e" stroke="#000" stroke-width="1.05"/>
<rect x="222.10" y="850.20" width="3.20" height="161.10" rx="0.5" fill="#6e6e6e" stroke="#000" stroke-width="1.05"/>
<line x1="207.90" y1="1021.50" x2="207.90" y2="1033.50" stroke="#000" stroke-width="2.0"/>
<circle cx="207.90" cy="1020.0" r="1.75" fill="#fff" stroke="#000" stroke-width="1.3"/>
<line x1="212.35" y1="1021.50" x2="212.35" y2="1033.50" stroke="#000" stroke-width="2.0"/>
<circle cx="212.35" cy="1020.0" r="1.75" fill="#fff" stroke="#000" stroke-width="1.3"/>
<line x1="216.80" y1="1021.50" x2="216.80" y2="1033.50" stroke="#000" stroke-width="2.0"/>
<circle cx="216.80" cy="1020.0" r="1.75" fill="#fff" stroke="#000" stroke-width="1.3"/>
<line x1="221.25" y1="1021.50" x2="221.25" y2="1033.50" stroke="#000" stroke-width="2.0"/>
<circle cx="221.25" cy="1020.0" r="1.75" fill="#fff" stroke="#000" stroke-width="1.3"/>
<line x1="225.70" y1="1021.50" x2="225.70" y2="1033.50" stroke="#000" stroke-width="2.0"/>
<circle cx="225.70" cy="1020.0" r="1.75" fill="#fff" stroke="#000" stroke-width="1.3"/>
<line x1="205.10" y1="1017.80" x2="228.50" y2="1017.80" stroke="#000" stroke-width="1.0"/>
<rect x="332.20" y="806.60" width="23.40" height="31.80" fill="#000"/>
<path d="M334.20,808.80 h7.72 M345.88,808.80 h7.72" stroke="#ccc" stroke-width="0.8"/>
<path d="M342.90,807.60 l2,3 l-2,3 l3,2" stroke="#fff" stroke-width="1.4" fill="none"/>
<path d="M334.70,812.60 l3,3 M353.10,812.60 l-3,3" stroke="#fff" stroke-width="1.1"/>
<path d="M336.40,820.60 v3" stroke="#fff" stroke-width="0.8"/>
<path d="M340.40,820.60 v3" stroke="#fff" stroke-width="0.8"/>
<path d="M344.40,820.60 v3" stroke="#fff" stroke-width="0.8"/>
<path d="M348.40,820.60 v3" stroke="#fff" stroke-width="0.8"/>
<path d="M334.70,829.60 q0.8,-3 1.6,0 v5 h-1.6 z M353.10,829.60 q-0.8,-3 -1.6,0 v5 h1.6 z M338.90,829.60 v4 M344.40,829.60 v4" stroke="#fff" stroke-width="0.9" fill="#fff"/>
<rect x="331.30" y="837.6" width="25.20" height="5.6" rx="0.8" fill="#fff" stroke="#000" stroke-width="1.7"/>
<line x1="332.50" y1="843.20" x2="332.50" y2="1033.50" stroke="#000" stroke-width="1.7"/>
<line x1="355.30" y1="843.20" x2="355.30" y2="1033.50" stroke="#000" stroke-width="1.7"/>
<rect x="335.40" y="850.20" width="3.20" height="161.10" rx="0.5" fill="#6e6e6e" stroke="#000" stroke-width="1.05"/>
<rect x="342.30" y="850.20" width="3.20" height="161.10" rx="0.5" fill="#6e6e6e" stroke="#000" stroke-width="1.05"/>
<rect x="349.20" y="850.20" width="3.20" height="161.10" rx="0.5" fill="#6e6e6e" stroke="#000" stroke-width="1.05"/>
<line x1="335.00" y1="1021.50" x2="335.00" y2="1033.50" stroke="#000" stroke-width="2.0"/>
<circle cx="335.00" cy="1020.0" r="1.75" fill="#fff" stroke="#000" stroke-width="1.3"/>
<line x1="339.45" y1="1021.50" x2="339.45" y2="1033.50" stroke="#000" stroke-width="2.0"/>
<circle cx="339.45" cy="1020.0" r="1.75" fill="#fff" stroke="#000" stroke-width="1.3"/>
<line x1="343.90" y1="1021.50" x2="343.90" y2="1033.50" stroke="#000" stroke-width="2.0"/>
<circle cx="343.90" cy="1020.0" r="1.75" fill="#fff" stroke="#000" stroke-width="1.3"/>
<line x1="348.35" y1="1021.50" x2="348.35" y2="1033.50" stroke="#000" stroke-width="2.0"/>
<circle cx="348.35" cy="1020.0" r="1.75" fill="#fff" stroke="#000" stroke-width="1.3"/>
<line x1="352.80" y1="1021.50" x2="352.80" y2="1033.50" stroke="#000" stroke-width="2.0"/>
<circle cx="352.80" cy="1020.0" r="1.75" fill="#fff" stroke="#000" stroke-width="1.3"/>
<line x1="332.20" y1="1017.80" x2="355.60" y2="1017.80" stroke="#000" stroke-width="1.0"/>
<rect x="501.70" y="806.60" width="23.40" height="31.80" fill="#000"/>
<path d="M503.70,808.80 h7.72 M515.38,808.80 h7.72" stroke="#ccc" stroke-width="0.8"/>
<path d="M512.40,807.60 l2,3 l-2,3 l3,2" stroke="#fff" stroke-width="1.4" fill="none"/>
<path d="M504.20,812.60 l3,3 M522.60,812.60 l-3,3" stroke="#fff" stroke-width="1.1"/>
<path d="M505.90,820.60 v3" stroke="#fff" stroke-width="0.8"/>
<path d="M509.90,820.60 v3" stroke="#fff" stroke-width="0.8"/>
<path d="M513.90,820.60 v3" stroke="#fff" stroke-width="0.8"/>
<path d="M517.90,820.60 v3" stroke="#fff" stroke-width="0.8"/>
<path d="M504.20,829.60 q0.8,-3 1.6,0 v5 h-1.6 z M522.60,829.60 q-0.8,-3 -1.6,0 v5 h1.6 z M508.40,829.60 v4 M513.90,829.60 v4" stroke="#fff" stroke-width="0.9" fill="#fff"/>
<rect x="500.80" y="837.6" width="25.20" height="5.6" rx="0.8" fill="#fff" stroke="#000" stroke-width="1.7"/>
<line x1="502.00" y1="843.20" x2="502.00" y2="1033.50" stroke="#000" stroke-width="1.7"/>
<line x1="524.80" y1="843.20" x2="524.80" y2="1033.50" stroke="#000" stroke-width="1.7"/>
<rect x="504.90" y="850.20" width="3.20" height="161.10" rx="0.5" fill="#6e6e6e" stroke="#000" stroke-width="1.05"/>
<rect x="511.80" y="850.20" width="3.20" height="161.10" rx="0.5" fill="#6e6e6e" stroke="#000" stroke-width="1.05"/>
<rect x="518.70" y="850.20" width="3.20" height="161.10" rx="0.5" fill="#6e6e6e" stroke="#000" stroke-width="1.05"/>
<line x1="504.50" y1="1021.50" x2="504.50" y2="1033.50" stroke="#000" stroke-width="2.0"/>
<circle cx="504.50" cy="1020.0" r="1.75" fill="#fff" stroke="#000" stroke-width="1.3"/>
<line x1="508.95" y1="1021.50" x2="508.95" y2="1033.50" stroke="#000" stroke-width="2.0"/>
<circle cx="508.95" cy="1020.0" r="1.75" fill="#fff" stroke="#000" stroke-width="1.3"/>
<line x1="513.40" y1="1021.50" x2="513.40" y2="1033.50" stroke="#000" stroke-width="2.0"/>
<circle cx="513.40" cy="1020.0" r="1.75" fill="#fff" stroke="#000" stroke-width="1.3"/>
<line x1="517.85" y1="1021.50" x2="517.85" y2="1033.50" stroke="#000" stroke-width="2.0"/>
<circle cx="517.85" cy="1020.0" r="1.75" fill="#fff" stroke="#000" stroke-width="1.3"/>
<line x1="522.30" y1="1021.50" x2="522.30" y2="1033.50" stroke="#000" stroke-width="2.0"/>
<circle cx="522.30" cy="1020.0" r="1.75" fill="#fff" stroke="#000" stroke-width="1.3"/>
<line x1="501.70" y1="1017.80" x2="525.10" y2="1017.80" stroke="#000" stroke-width="1.0"/>
<rect x="628.80" y="806.60" width="23.40" height="31.80" fill="#000"/>
<path d="M630.80,808.80 h7.72 M642.48,808.80 h7.72" stroke="#ccc" stroke-width="0.8"/>
<path d="M639.50,807.60 l2,3 l-2,3 l3,2" stroke="#fff" stroke-width="1.4" fill="none"/>
<path d="M631.30,812.60 l3,3 M649.70,812.60 l-3,3" stroke="#fff" stroke-width="1.1"/>
<path d="M633.00,820.60 v3" stroke="#fff" stroke-width="0.8"/>
<path d="M637.00,820.60 v3" stroke="#fff" stroke-width="0.8"/>
<path d="M641.00,820.60 v3" stroke="#fff" stroke-width="0.8"/>
<path d="M645.00,820.60 v3" stroke="#fff" stroke-width="0.8"/>
<path d="M631.30,829.60 q0.8,-3 1.6,0 v5 h-1.6 z M649.70,829.60 q-0.8,-3 -1.6,0 v5 h1.6 z M635.50,829.60 v4 M641.00,829.60 v4" stroke="#fff" stroke-width="0.9" fill="#fff"/>
<rect x="627.90" y="837.6" width="25.20" height="5.6" rx="0.8" fill="#fff" stroke="#000" stroke-width="1.7"/>
<line x1="629.10" y1="843.20" x2="629.10" y2="1033.50" stroke="#000" stroke-width="1.7"/>
<line x1="651.90" y1="843.20" x2="651.90" y2="1033.50" stroke="#000" stroke-width="1.7"/>
<rect x="632.00" y="850.20" width="3.20" height="161.10" rx="0.5" fill="#6e6e6e" stroke="#000" stroke-width="1.05"/>
<rect x="638.90" y="850.20" width="3.20" height="161.10" rx="0.5" fill="#6e6e6e" stroke="#000" stroke-width="1.05"/>
<rect x="645.80" y="850.20" width="3.20" height="161.10" rx="0.5" fill="#6e6e6e" stroke="#000" stroke-width="1.05"/>
<line x1="631.60" y1="1021.50" x2="631.60" y2="1033.50" stroke="#000" stroke-width="2.0"/>
<circle cx="631.60" cy="1020.0" r="1.75" fill="#fff" stroke="#000" stroke-width="1.3"/>
<line x1="636.05" y1="1021.50" x2="636.05" y2="1033.50" stroke="#000" stroke-width="2.0"/>
<circle cx="636.05" cy="1020.0" r="1.75" fill="#fff" stroke="#000" stroke-width="1.3"/>
<line x1="640.50" y1="1021.50" x2="640.50" y2="1033.50" stroke="#000" stroke-width="2.0"/>
<circle cx="640.50" cy="1020.0" r="1.75" fill="#fff" stroke="#000" stroke-width="1.3"/>
<line x1="644.95" y1="1021.50" x2="644.95" y2="1033.50" stroke="#000" stroke-width="2.0"/>
<circle cx="644.95" cy="1020.0" r="1.75" fill="#fff" stroke="#000" stroke-width="1.3"/>
<line x1="649.40" y1="1021.50" x2="649.40" y2="1033.50" stroke="#000" stroke-width="2.0"/>
<circle cx="649.40" cy="1020.0" r="1.75" fill="#fff" stroke="#000" stroke-width="1.3"/>
<line x1="628.80" y1="1017.80" x2="652.20" y2="1017.80" stroke="#000" stroke-width="1.0"/>
<path d="M235.50,1033.5 V813.1 H325.80 V1033.5" fill="none" stroke="#000" stroke-width="1.5"/>
<path d="M238.70,1030.4 V816.3 H322.60 V1030.4 Z" fill="none" stroke="#000" stroke-width="1.4"/>
<path d="M237.10,1032 V814.7 H324.20 V1032" fill="none" stroke="#aaa" stroke-width="1.4"/>
<path d="M531.50,1033.5 V813.1 H621.80 V1033.5" fill="none" stroke="#000" stroke-width="1.5"/>
<path d="M534.70,1030.4 V816.3 H618.60 V1030.4 Z" fill="none" stroke="#000" stroke-width="1.4"/>
<path d="M533.10,1032 V814.7 H620.20 V1032" fill="none" stroke="#aaa" stroke-width="1.4"/>
<rect x="228.50" y="880.50" width="103.70" height="7.10" stroke="#000" stroke-width="1.6" fill="#fff"/>
<rect x="228.50" y="961.50" width="103.70" height="6.40" stroke="#000" stroke-width="1.6" fill="#fff"/>
<rect x="525.10" y="880.50" width="103.70" height="7.10" stroke="#000" stroke-width="1.6" fill="#fff"/>
<rect x="525.10" y="961.50" width="103.70" height="6.40" stroke="#000" stroke-width="1.6" fill="#fff"/>
<rect x="365.40" y="836.60" width="126.90" height="123.60" fill="none" stroke="#9a9a9a" stroke-width="3.95"/>
<rect x="364.10" y="835.30" width="129.50" height="126.20" stroke="#000" stroke-width="1.35" fill="none"/>
<rect x="366.70" y="837.90" width="124.30" height="121.00" stroke="#000" stroke-width="1.35" fill="none"/>
<rect x="371.80" y="843.40" width="113.70" height="110.40" fill="none" stroke="#9a9a9a" stroke-width="3.25"/>
<rect x="370.80" y="842.40" width="115.70" height="112.40" stroke="#000" stroke-width="1.25" fill="none"/>
<rect x="372.80" y="844.40" width="111.70" height="108.40" stroke="#000" stroke-width="1.25" fill="none"/>
<rect x="362.20" y="1016.20" width="133.70" height="3.60" stroke="#000" stroke-width="1.6" fill="none"/>
<path d="M364.6,1019.8 V1033.5 M493.5,1019.8 V1033.5" stroke="#000" stroke-width="1.5"/>
<path d="M169.1,1033.5 H669.9" stroke="#000" stroke-width="1.7" fill="none" />
<path d="M669.90,1033.50 C675.12,1033.50 676.86,1037.60 679.47,1040.52 C682.08,1043.44 683.82,1045.20 687.30,1045.20" stroke="#000" stroke-width="1.7" fill="none" />
<path d="M169.10,1033.50 C163.88,1033.50 162.14,1037.60 159.53,1040.52 C156.92,1043.44 155.18,1045.20 151.70,1045.20" stroke="#000" stroke-width="1.7" fill="none" />
<line x1="150.50" y1="1044.60" x2="688.50" y2="1044.60" stroke="#000" stroke-width="1.2"/>
<line x1="150.50" y1="1046.80" x2="688.50" y2="1046.80" stroke="#000" stroke-width="1.2"/>
<path d="M141,1046.9 H698 A5.2,5.2 0 0 1 698,1057.3 H141 A5.2,5.2 0 0 1 141,1046.9 Z" stroke="#000" stroke-width="1.7" fill="none" />
<rect x="177.40" y="1057.30" width="28.40" height="27.80" stroke="#000" stroke-width="1.7" fill="none"/>
<rect x="178.30" y="1085.10" width="25.90" height="119.60" stroke="#000" stroke-width="1.7" fill="none"/>
<rect x="177.40" y="1204.70" width="28.40" height="27.70" stroke="#000" stroke-width="1.7" fill="none"/>
<line x1="180.00" y1="1085.10" x2="180.00" y2="1204.70" stroke="#444" stroke-width="0.9"/>
<line x1="202.50" y1="1085.10" x2="202.50" y2="1204.70" stroke="#444" stroke-width="0.9"/>
<rect x="182.50" y="1087.90" width="3.20" height="114.80" rx="0.5" fill="#6e6e6e" stroke="#000" stroke-width="1.05"/>
<rect x="189.60" y="1087.90" width="3.20" height="114.80" rx="0.5" fill="#6e6e6e" stroke="#000" stroke-width="1.05"/>
<rect x="196.70" y="1087.90" width="3.20" height="114.80" rx="0.5" fill="#6e6e6e" stroke="#000" stroke-width="1.05"/>
<rect x="329.50" y="1057.30" width="28.40" height="27.80" stroke="#000" stroke-width="1.7" fill="none"/>
<rect x="330.40" y="1085.10" width="25.90" height="119.60" stroke="#000" stroke-width="1.7" fill="none"/>
<rect x="329.50" y="1204.70" width="28.40" height="27.70" stroke="#000" stroke-width="1.7" fill="none"/>
<line x1="332.10" y1="1085.10" x2="332.10" y2="1204.70" stroke="#444" stroke-width="0.9"/>
<line x1="354.60" y1="1085.10" x2="354.60" y2="1204.70" stroke="#444" stroke-width="0.9"/>
<rect x="334.60" y="1087.90" width="3.20" height="114.80" rx="0.5" fill="#6e6e6e" stroke="#000" stroke-width="1.05"/>
<rect x="341.70" y="1087.90" width="3.20" height="114.80" rx="0.5" fill="#6e6e6e" stroke="#000" stroke-width="1.05"/>
<rect x="348.80" y="1087.90" width="3.20" height="114.80" rx="0.5" fill="#6e6e6e" stroke="#000" stroke-width="1.05"/>
<rect x="481.40" y="1057.30" width="28.40" height="27.80" stroke="#000" stroke-width="1.7" fill="none"/>
<rect x="482.30" y="1085.10" width="25.90" height="119.60" stroke="#000" stroke-width="1.7" fill="none"/>
<rect x="481.40" y="1204.70" width="28.40" height="27.70" stroke="#000" stroke-width="1.7" fill="none"/>
<line x1="484.00" y1="1085.10" x2="484.00" y2="1204.70" stroke="#444" stroke-width="0.9"/>
<line x1="506.50" y1="1085.10" x2="506.50" y2="1204.70" stroke="#444" stroke-width="0.9"/>
<rect x="486.50" y="1087.90" width="3.20" height="114.80" rx="0.5" fill="#6e6e6e" stroke="#000" stroke-width="1.05"/>
<rect x="493.60" y="1087.90" width="3.20" height="114.80" rx="0.5" fill="#6e6e6e" stroke="#000" stroke-width="1.05"/>
<rect x="500.70" y="1087.90" width="3.20" height="114.80" rx="0.5" fill="#6e6e6e" stroke="#000" stroke-width="1.05"/>
<rect x="633.90" y="1057.30" width="28.40" height="27.80" stroke="#000" stroke-width="1.7" fill="none"/>
<rect x="634.80" y="1085.10" width="25.90" height="119.60" stroke="#000" stroke-width="1.7" fill="none"/>
<rect x="633.90" y="1204.70" width="28.40" height="27.70" stroke="#000" stroke-width="1.7" fill="none"/>
<line x1="636.50" y1="1085.10" x2="636.50" y2="1204.70" stroke="#444" stroke-width="0.9"/>
<line x1="659.00" y1="1085.10" x2="659.00" y2="1204.70" stroke="#444" stroke-width="0.9"/>
<rect x="639.00" y="1087.90" width="3.20" height="114.80" rx="0.5" fill="#6e6e6e" stroke="#000" stroke-width="1.05"/>
<rect x="646.10" y="1087.90" width="3.20" height="114.80" rx="0.5" fill="#6e6e6e" stroke="#000" stroke-width="1.05"/>
<rect x="653.20" y="1087.90" width="3.20" height="114.80" rx="0.5" fill="#6e6e6e" stroke="#000" stroke-width="1.05"/>
<rect x="223.10" y="1082.80" width="89.20" height="124.30" fill="none" stroke="#c4c4c4" stroke-width="2.6"/>
<rect x="230.10" y="1089.80" width="75.20" height="110.30" fill="none" stroke="#c4c4c4" stroke-width="2.6"/>
<rect x="221.70" y="1081.40" width="92.00" height="127.10" stroke="#000" stroke-width="1.45" fill="none"/>
<rect x="224.50" y="1084.20" width="86.40" height="121.50" stroke="#000" stroke-width="1.45" fill="none"/>
<rect x="228.70" y="1088.40" width="78.00" height="113.10" stroke="#000" stroke-width="1.45" fill="none"/>
<rect x="231.50" y="1091.20" width="72.40" height="107.50" stroke="#000" stroke-width="1.45" fill="none"/>
<rect x="375.20" y="1082.80" width="89.20" height="124.30" fill="none" stroke="#c4c4c4" stroke-width="2.6"/>
<rect x="382.20" y="1089.80" width="75.20" height="110.30" fill="none" stroke="#c4c4c4" stroke-width="2.6"/>
<rect x="373.80" y="1081.40" width="92.00" height="127.10" stroke="#000" stroke-width="1.45" fill="none"/>
<rect x="376.60" y="1084.20" width="86.40" height="121.50" stroke="#000" stroke-width="1.45" fill="none"/>
<rect x="380.80" y="1088.40" width="78.00" height="113.10" stroke="#000" stroke-width="1.45" fill="none"/>
<rect x="383.60" y="1091.20" width="72.40" height="107.50" stroke="#000" stroke-width="1.45" fill="none"/>
<rect x="527.90" y="1082.80" width="89.20" height="124.30" fill="none" stroke="#c4c4c4" stroke-width="2.6"/>
<rect x="534.90" y="1089.80" width="75.20" height="110.30" fill="none" stroke="#c4c4c4" stroke-width="2.6"/>
<rect x="526.50" y="1081.40" width="92.00" height="127.10" stroke="#000" stroke-width="1.45" fill="none"/>
<rect x="529.30" y="1084.20" width="86.40" height="121.50" stroke="#000" stroke-width="1.45" fill="none"/>
<rect x="533.50" y="1088.40" width="78.00" height="113.10" stroke="#000" stroke-width="1.45" fill="none"/>
<rect x="536.30" y="1091.20" width="72.40" height="107.50" stroke="#000" stroke-width="1.45" fill="none"/>
<line x1="664.40" y1="1057.30" x2="664.40" y2="1274.30" stroke="#000" stroke-width="1.5"/>
<line x1="675.10" y1="1057.30" x2="675.10" y2="1274.30" stroke="#000" stroke-width="1.6"/>
<path d="M664.4,1126 H660.6 V1132.5 H664.4" fill="none" stroke="#000" stroke-width="1"/>
<path d="M664.4,1153.8 H660.6 V1163 H664.4" fill="none" stroke="#000" stroke-width="1"/>
<path d="M664.4,1170 H660.6 V1194 H664.4" fill="none" stroke="#000" stroke-width="1"/>
<path d="M664.4,1196.6 H660.6 V1203 H664.4" fill="none" stroke="#000" stroke-width="1"/>
<line x1="183.60" y1="1057.50" x2="183.60" y2="1236.00" stroke="#b0b0b0" stroke-width="1.3" stroke-dasharray="14 6"/>
<line x1="656.00" y1="1057.50" x2="656.00" y2="1236.00" stroke="#b0b0b0" stroke-width="1.3" stroke-dasharray="14 6"/>
<path d="M176.4,1232.4 H664.4 M176.4,1236.4 H664.4 M176.4,1232.4 V1236.4" stroke="#000" stroke-width="1.6" fill="none" />
<line x1="177.90" y1="1236.40" x2="177.90" y2="1274.30" stroke="#000" stroke-width="1.5"/>
<path d="M165.5,1244.3 H674.4 A4.7,4.7 0 0 1 674.4,1253.7 H165.5 A4.7,4.7 0 0 1 165.5,1244.3 Z" stroke="#000" stroke-width="1.6" fill="#fff" />
<rect x="340.60" y="1253.70" width="5.4" height="14.60" fill="#fff" stroke="#000" stroke-width="1.3"/>
<circle cx="343.30" cy="1268.30" r="4.9" fill="#fff" stroke="#000" stroke-width="1.5"/>
<circle cx="343.30" cy="1268.30" r="2.5" fill="#fff" stroke="#000" stroke-width="1.1"/>
<rect x="341.70" y="1254.20" width="3.2" height="13.60" fill="#fff"/>
<rect x="340.30" y="1244.30" width="6.00" height="9.40" stroke="#000" stroke-width="1.2" fill="none"/>
<rect x="492.50" y="1253.70" width="5.4" height="14.60" fill="#fff" stroke="#000" stroke-width="1.3"/>
<circle cx="495.20" cy="1268.30" r="4.9" fill="#fff" stroke="#000" stroke-width="1.5"/>
<circle cx="495.20" cy="1268.30" r="2.5" fill="#fff" stroke="#000" stroke-width="1.1"/>
<rect x="493.60" y="1254.20" width="3.2" height="13.60" fill="#fff"/>
<rect x="492.20" y="1244.30" width="6.00" height="9.40" stroke="#000" stroke-width="1.2" fill="none"/>
<path d="M164,1254 C166,1262 170,1267 175.7,1271" stroke="#000" stroke-width="1.3" fill="none" />
<path d="M166.8,1254 C168.5,1260 172,1265 176,1267.5" stroke="#000" stroke-width="1.1" fill="none" />
<rect x="175.2" y="1262" width="2.3" height="11" fill="#666"/>
<path d="M676,1254 C675,1262 671,1267 665.5,1271" stroke="#000" stroke-width="1.3" fill="none" />
<path d="M673.2,1254 C672.2,1260 669.5,1265 665.5,1267.5" stroke="#000" stroke-width="1.1" fill="none" />
<path d="M139,1274.3 H677.3 V1277.7 H136.2 V1276.8 Z" fill="#000" stroke="#000" stroke-width="0.8"/>
<path d="M136.4,1277.5 V1281.9 H677.3 V1277.5" stroke="#000" stroke-width="1.6" fill="none" />
<line x1="172.00" y1="1277.70" x2="172.00" y2="1281.50" stroke="#000" stroke-width="1.2"/>
<text transform="translate(344.30,1383.60) scale(1,1.05)" font-size="22.0" fill="#000" text-anchor="start" >FRONT VIEW</text>
<g transform="matrix(-1 0 0 1 2492.4 709.8)">
<line x1="1017.30" y1="40.20" x2="1017.30" y2="572.30" stroke="#000" stroke-width="1.7"/>
<rect x="1017.30" y="40.70" width="106.30" height="4.70" stroke="#000" stroke-width="1.7" fill="none"/>
<path d="M1117,45.4 C1113,46.3 1111,47.5 1110.5,50 C1110,52.5 1109.5,54.5 1108.3,56.5" stroke="#000" stroke-width="1.7" fill="none" />
<line x1="1017.30" y1="53.60" x2="1108.80" y2="53.60" stroke="#000" stroke-width="1.7"/>
<line x1="1017.30" y1="55.60" x2="1108.50" y2="55.60" stroke="#666" stroke-width="1.6"/>
<line x1="1106.20" y1="56.50" x2="1106.20" y2="69.50" stroke="#000" stroke-width="1.5"/>
<rect x="1025.00" y="58.60" width="7.70" height="7.60" stroke="#000" stroke-width="1.4" fill="none"/>
<rect x="1039.00" y="58.60" width="7.70" height="7.60" stroke="#000" stroke-width="1.4" fill="none"/>
<rect x="1053.00" y="58.60" width="7.70" height="7.60" stroke="#000" stroke-width="1.4" fill="none"/>
<rect x="1067.00" y="58.60" width="7.70" height="7.60" stroke="#000" stroke-width="1.4" fill="none"/>
<rect x="1081.00" y="58.60" width="7.70" height="7.60" stroke="#000" stroke-width="1.4" fill="none"/>
<rect x="1095.00" y="58.60" width="7.70" height="7.60" stroke="#000" stroke-width="1.4" fill="none"/>
<line x1="1017.30" y1="69.00" x2="1110.50" y2="69.00" stroke="#000" stroke-width="1.7"/>
<line x1="1017.30" y1="71.00" x2="1107.00" y2="71.00" stroke="#888" stroke-width="1.4"/>
<path d="M1030.00,71.70 H1044.70 C1044.40,75.32 1043.55,77.13 1043.05,80.75 L1042.15,88.80 Q1041.95,89.80 1040.95,89.80 H1033.75 Q1032.75,89.80 1032.55,88.80 L1031.65,80.75 C1031.15,77.13 1030.30,75.32 1030.00,71.70 Z" fill="#000" stroke="#000" stroke-width="0.8"/>
<path d="M1032.50,74.50 h9.70" stroke="#666" stroke-width="0.6"/>
<path d="M1034.35,85.80 l1.5,1 M1040.35,85.80 l-1.5,1 M1034.85,88.00 h5" stroke="#bbb" stroke-width="0.6"/>
<path d="M1053.05,71.70 H1067.75 C1067.45,75.32 1066.60,77.13 1066.10,80.75 L1065.20,88.80 Q1065.00,89.80 1064.00,89.80 H1056.80 Q1055.80,89.80 1055.60,88.80 L1054.70,80.75 C1054.20,77.13 1053.35,75.32 1053.05,71.70 Z" fill="#000" stroke="#000" stroke-width="0.8"/>
<path d="M1055.55,74.50 h9.70" stroke="#666" stroke-width="0.6"/>
<path d="M1057.40,85.80 l1.5,1 M1063.40,85.80 l-1.5,1 M1057.90,88.00 h5" stroke="#bbb" stroke-width="0.6"/>
<path d="M1076.10,71.70 H1090.80 C1090.50,75.32 1089.65,77.13 1089.15,80.75 L1088.25,88.80 Q1088.05,89.80 1087.05,89.80 H1079.85 Q1078.85,89.80 1078.65,88.80 L1077.75,80.75 C1077.25,77.13 1076.40,75.32 1076.10,71.70 Z" fill="#000" stroke="#000" stroke-width="0.8"/>
<path d="M1078.60,74.50 h9.70" stroke="#666" stroke-width="0.6"/>
<path d="M1080.45,85.80 l1.5,1 M1086.45,85.80 l-1.5,1 M1080.95,88.00 h5" stroke="#bbb" stroke-width="0.6"/>
<path d="M1098,71.7 H1106 C1106.5,76 1105,80 1103.5,84 L1100,90 H1098 Z" fill="#000"/>
<path d="M1101,83 l2,-4" stroke="#fff" stroke-width="0.9"/>
<line x1="1017.30" y1="91.80" x2="1101.20" y2="91.80" stroke="#000" stroke-width="1.7"/>
<line x1="1017.30" y1="95.30" x2="1100.00" y2="95.30" stroke="#000" stroke-width="1.7"/>
<line x1="1098.50" y1="95.30" x2="1098.50" y2="332.60" stroke="#000" stroke-width="1.7"/>
<path d="M1099,127 q1.8,1.5 0,7" stroke="#000" stroke-width="1.4" fill="none" />
<path d="M1099,308.5 C1100,312 1105.5,318 1104.8,323.5 C1104.3,328 1102,331 1099.5,331.5" stroke="#000" stroke-width="1.5" fill="none" />
<line x1="1017.30" y1="332.60" x2="1121.00" y2="332.60" stroke="#000" stroke-width="1.7"/>
<rect x="1017.3" y="564.3" width="104" height="3.8" fill="#000"/>
<line x1="1017.30" y1="571.80" x2="1121.00" y2="571.80" stroke="#000" stroke-width="1.7"/>
</g>
<line x1="946.00" y1="1057.10" x2="1478.40" y2="1057.10" stroke="#000" stroke-width="1.7"/>
<path d="M979,1033.3 H1371.6" stroke="#000" stroke-width="1.7" fill="none" />
<path d="M980.00,1033.30 C974.42,1033.30 972.56,1037.46 969.77,1040.44 C966.98,1043.41 965.12,1045.20 961.40,1045.20" stroke="#000" stroke-width="1.7" fill="none" />
<line x1="960.50" y1="1044.60" x2="1183.40" y2="1044.60" stroke="#000" stroke-width="1.2"/>
<line x1="960.50" y1="1046.80" x2="1183.40" y2="1046.80" stroke="#000" stroke-width="1.2"/>
<path d="M1183.4,1046.9 H951.6 A5.2,5.2 0 0 0 951.6,1057.3 H1183.4" stroke="#000" stroke-width="1.7" fill="none" />
<line x1="1183.40" y1="1042.30" x2="1371.60" y2="1042.30" stroke="#000" stroke-width="1.8"/>
<line x1="1183.40" y1="1044.60" x2="1371.60" y2="1044.60" stroke="#666" stroke-width="1.5"/>
<rect x="987.70" y="1057.30" width="28.40" height="27.80" stroke="#000" stroke-width="1.7" fill="none"/>
<rect x="988.60" y="1085.10" width="25.90" height="119.60" stroke="#000" stroke-width="1.7" fill="none"/>
<rect x="987.70" y="1204.70" width="28.40" height="27.70" stroke="#000" stroke-width="1.7" fill="none"/>
<line x1="990.30" y1="1085.10" x2="990.30" y2="1204.70" stroke="#444" stroke-width="0.9"/>
<line x1="1012.80" y1="1085.10" x2="1012.80" y2="1204.70" stroke="#444" stroke-width="0.9"/>
<rect x="992.80" y="1087.90" width="3.20" height="114.80" rx="0.5" fill="#6e6e6e" stroke="#000" stroke-width="1.05"/>
<rect x="999.90" y="1087.90" width="3.20" height="114.80" rx="0.5" fill="#6e6e6e" stroke="#000" stroke-width="1.05"/>
<rect x="1007.00" y="1087.90" width="3.20" height="114.80" rx="0.5" fill="#6e6e6e" stroke="#000" stroke-width="1.05"/>
<rect x="1155.30" y="1057.30" width="28.40" height="27.80" stroke="#000" stroke-width="1.7" fill="none"/>
<rect x="1156.20" y="1085.10" width="25.90" height="119.60" stroke="#000" stroke-width="1.7" fill="none"/>
<rect x="1155.30" y="1204.70" width="28.40" height="27.70" stroke="#000" stroke-width="1.7" fill="none"/>
<line x1="1157.90" y1="1085.10" x2="1157.90" y2="1204.70" stroke="#444" stroke-width="0.9"/>
<line x1="1180.40" y1="1085.10" x2="1180.40" y2="1204.70" stroke="#444" stroke-width="0.9"/>
<rect x="1160.40" y="1087.90" width="3.20" height="114.80" rx="0.5" fill="#6e6e6e" stroke="#000" stroke-width="1.05"/>
<rect x="1167.50" y="1087.90" width="3.20" height="114.80" rx="0.5" fill="#6e6e6e" stroke="#000" stroke-width="1.05"/>
<rect x="1174.60" y="1087.90" width="3.20" height="114.80" rx="0.5" fill="#6e6e6e" stroke="#000" stroke-width="1.05"/>
<rect x="1033.00" y="1082.80" width="104.90" height="124.30" fill="none" stroke="#c4c4c4" stroke-width="2.6"/>
<rect x="1040.00" y="1089.80" width="90.90" height="110.30" fill="none" stroke="#c4c4c4" stroke-width="2.6"/>
<rect x="1031.60" y="1081.40" width="107.70" height="127.10" stroke="#000" stroke-width="1.45" fill="none"/>
<rect x="1034.40" y="1084.20" width="102.10" height="121.50" stroke="#000" stroke-width="1.45" fill="none"/>
<rect x="1038.60" y="1088.40" width="93.70" height="113.10" stroke="#000" stroke-width="1.45" fill="none"/>
<rect x="1041.40" y="1091.20" width="88.10" height="107.50" stroke="#000" stroke-width="1.45" fill="none"/>
<line x1="994.00" y1="1057.50" x2="994.00" y2="1236.00" stroke="#b0b0b0" stroke-width="1.3" stroke-dasharray="14 6"/>
<line x1="1183.60" y1="1033.30" x2="1183.60" y2="1281.50" stroke="#000" stroke-width="1.6"/>
<line x1="1371.60" y1="1033.30" x2="1371.60" y2="1281.50" stroke="#000" stroke-width="1.7"/>
<rect x="1181.50" y="1152.00" width="179.90" height="6.50" stroke="#000" stroke-width="1.5" fill="none"/>
<line x1="1362.00" y1="1057.40" x2="1362.00" y2="1254.00" stroke="#000" stroke-width="1.5"/>
<line x1="1183.40" y1="1254.00" x2="1371.60" y2="1254.00" stroke="#000" stroke-width="1.5"/>
<path d="M986.3,1232.4 H1185 M986.3,1236.4 H1185 M986.3,1232.4 V1236.4 M1185,1232.4 V1236.4" stroke="#000" stroke-width="1.6" fill="none" />
<line x1="987.90" y1="1236.40" x2="987.90" y2="1274.30" stroke="#000" stroke-width="1.5"/>
<path d="M975.4,1244.3 H1177.3 A4.7,4.7 0 0 1 1177.3,1253.7 H975.4 A4.7,4.7 0 0 1 975.4,1244.3 Z" stroke="#000" stroke-width="1.6" fill="#fff" />
<rect x="1173.00" y="1244.30" width="5.00" height="9.40" stroke="#000" stroke-width="1.2" fill="none"/>
<rect x="1166.70" y="1253.70" width="5.4" height="14.60" fill="#fff" stroke="#000" stroke-width="1.3"/>
<circle cx="1169.40" cy="1268.30" r="4.9" fill="#fff" stroke="#000" stroke-width="1.5"/>
<circle cx="1169.40" cy="1268.30" r="2.5" fill="#fff" stroke="#000" stroke-width="1.1"/>
<rect x="1167.80" y="1254.20" width="3.2" height="13.60" fill="#fff"/>
<path d="M974,1254 C976,1262 980,1267 985.7,1271" stroke="#000" stroke-width="1.3" fill="none" />
<path d="M976.8,1254 C978.5,1260 982,1265 986,1267.5" stroke="#000" stroke-width="1.1" fill="none" />
<rect x="985.2" y="1262" width="2.3" height="11" fill="#666"/>
<path d="M984,1274.3 H1183.6 V1277.7 H981.2 V1276.8 Z" fill="#000" stroke="#000" stroke-width="0.8"/>
<path d="M981.4,1277.5 V1281.9 H1371.6" stroke="#000" stroke-width="1.6" fill="none" />
<text transform="translate(1147.60,1383.60) scale(1,1.05)" font-size="22.0" fill="#000" text-anchor="start" >SIDE VIEW RIGHT</text>
<line x1="126.00" y1="29.80" x2="394.00" y2="29.80" stroke="#0000ff" stroke-width="1.15"/>
<line x1="463.90" y1="29.80" x2="724.50" y2="29.80" stroke="#0000ff" stroke-width="1.15"/>
<polygon points="136.60,29.80 142.81,27.93 147.90,27.30 147.90,32.30 142.81,31.68" fill="#0000ff"/>
<polygon points="180.70,29.80 174.48,31.68 169.40,32.30 169.40,27.30 174.48,27.93" fill="#0000ff"/>
<polygon points="180.70,29.80 186.91,27.93 192.00,27.30 192.00,32.30 186.91,31.68" fill="#0000ff"/>
<polygon points="677.00,29.80 670.78,31.68 665.70,32.30 665.70,27.30 670.78,27.93" fill="#0000ff"/>
<polygon points="703.70,29.80 709.92,27.93 715.00,27.30 715.00,32.30 709.92,31.68" fill="#0000ff"/>
<line x1="136.60" y1="26.00" x2="136.60" y2="198.00" stroke="#0000ff" stroke-width="1.15"/>
<line x1="180.70" y1="26.00" x2="180.70" y2="77.70" stroke="#0000ff" stroke-width="1.15"/>
<line x1="677.00" y1="26.00" x2="677.00" y2="77.70" stroke="#0000ff" stroke-width="1.15"/>
<line x1="703.70" y1="26.00" x2="703.70" y2="369.00" stroke="#0000ff" stroke-width="1.15"/>
<text transform="translate(96.00,25.50) scale(1,1.06)" font-size="14.6" fill="#0000ff" text-anchor="middle" stroke="#0000ff" stroke-width="0.15" >19.10cm</text>
<text transform="translate(96.00,43.80) scale(1,1.06)" font-size="14.6" fill="#0000ff" text-anchor="middle" stroke="#0000ff" stroke-width="0.15" >[7.5&quot;]</text>
<text transform="translate(429.00,25.50) scale(1,1.06)" font-size="14.6" fill="#0000ff" text-anchor="middle" stroke="#0000ff" stroke-width="0.15" >213.40cm</text>
<text transform="translate(429.00,43.80) scale(1,1.06)" font-size="14.6" fill="#0000ff" text-anchor="middle" stroke="#0000ff" stroke-width="0.15" >[84.0&quot;]</text>
<text transform="translate(754.50,25.50) scale(1,1.06)" font-size="14.6" fill="#0000ff" text-anchor="middle" stroke="#0000ff" stroke-width="0.15" >11.40cm</text>
<text transform="translate(754.50,43.80) scale(1,1.06)" font-size="14.6" fill="#0000ff" text-anchor="middle" stroke="#0000ff" stroke-width="0.15" >[4.5&quot;]</text>
<line x1="71.00" y1="81.00" x2="178.00" y2="81.00" stroke="#0000ff" stroke-width="1.15"/>
<line x1="71.00" y1="185.00" x2="133.00" y2="185.00" stroke="#0000ff" stroke-width="1.15"/>
<line x1="71.00" y1="609.40" x2="195.00" y2="609.40" stroke="#0000ff" stroke-width="1.15"/>
<line x1="74.40" y1="81.00" x2="74.40" y2="114.00" stroke="#0000ff" stroke-width="1.15"/>
<line x1="74.40" y1="152.00" x2="74.40" y2="376.40" stroke="#0000ff" stroke-width="1.15"/>
<line x1="74.40" y1="415.80" x2="74.40" y2="609.40" stroke="#0000ff" stroke-width="1.15"/>
<polygon points="74.40,81.00 76.28,87.22 76.90,92.30 71.90,92.30 72.53,87.22" fill="#0000ff"/>
<polygon points="74.40,185.00 72.53,178.78 71.90,173.70 76.90,173.70 76.28,178.78" fill="#0000ff"/>
<polygon points="74.40,185.00 76.28,191.22 76.90,196.30 71.90,196.30 72.53,191.22" fill="#0000ff"/>
<polygon points="74.40,609.40 72.53,603.18 71.90,598.10 76.90,598.10 76.28,603.18" fill="#0000ff"/>
<text transform="translate(74.40,129.00) scale(1,1.06)" font-size="14.6" fill="#0000ff" text-anchor="middle" stroke="#0000ff" stroke-width="0.15" >44.70cm</text>
<text transform="translate(74.40,147.50) scale(1,1.06)" font-size="14.6" fill="#0000ff" text-anchor="middle" stroke="#0000ff" stroke-width="0.15" >[17.6&quot;]</text>
<text transform="translate(74.40,393.00) scale(1,1.06)" font-size="14.6" fill="#0000ff" text-anchor="middle" stroke="#0000ff" stroke-width="0.15" >182.60cm</text>
<text transform="translate(74.40,411.50) scale(1,1.06)" font-size="14.6" fill="#0000ff" text-anchor="middle" stroke="#0000ff" stroke-width="0.15" >[71.9&quot;]</text>
<line x1="680.00" y1="81.00" x2="767.00" y2="81.00" stroke="#0000ff" stroke-width="1.15"/>
<line x1="680.00" y1="187.00" x2="767.00" y2="187.00" stroke="#0000ff" stroke-width="1.15"/>
<line x1="706.00" y1="373.20" x2="767.00" y2="373.20" stroke="#0000ff" stroke-width="1.15"/>
<line x1="644.30" y1="609.40" x2="767.00" y2="609.40" stroke="#0000ff" stroke-width="1.15"/>
<line x1="763.30" y1="81.00" x2="763.30" y2="115.50" stroke="#0000ff" stroke-width="1.15"/>
<line x1="763.30" y1="153.00" x2="763.30" y2="187.00" stroke="#0000ff" stroke-width="1.15"/>
<line x1="763.30" y1="187.00" x2="763.30" y2="262.00" stroke="#0000ff" stroke-width="1.15"/>
<line x1="763.30" y1="299.00" x2="763.30" y2="373.20" stroke="#0000ff" stroke-width="1.15"/>
<line x1="763.30" y1="373.20" x2="763.30" y2="473.50" stroke="#0000ff" stroke-width="1.15"/>
<line x1="763.30" y1="510.50" x2="763.30" y2="609.40" stroke="#0000ff" stroke-width="1.15"/>
<polygon points="763.30,81.00 765.17,87.22 765.80,92.30 760.80,92.30 761.42,87.22" fill="#0000ff"/>
<polygon points="763.30,187.00 761.42,180.78 760.80,175.70 765.80,175.70 765.17,180.78" fill="#0000ff"/>
<polygon points="763.30,187.00 765.17,193.22 765.80,198.30 760.80,198.30 761.42,193.22" fill="#0000ff"/>
<polygon points="763.30,373.20 761.42,366.99 760.80,361.90 765.80,361.90 765.17,366.99" fill="#0000ff"/>
<polygon points="763.30,373.20 765.17,379.41 765.80,384.50 760.80,384.50 761.42,379.41" fill="#0000ff"/>
<polygon points="763.30,609.40 761.42,603.18 760.80,598.10 765.80,598.10 765.17,603.18" fill="#0000ff"/>
<text transform="translate(763.30,129.50) scale(1,1.06)" font-size="14.6" fill="#0000ff" text-anchor="middle" stroke="#0000ff" stroke-width="0.15" >45.70cm</text>
<text transform="translate(763.30,148.00) scale(1,1.06)" font-size="14.6" fill="#0000ff" text-anchor="middle" stroke="#0000ff" stroke-width="0.15" >[18.0&quot;]</text>
<text transform="translate(763.30,276.00) scale(1,1.06)" font-size="14.6" fill="#0000ff" text-anchor="middle" stroke="#0000ff" stroke-width="0.15" >80.00cm</text>
<text transform="translate(763.30,294.50) scale(1,1.06)" font-size="14.6" fill="#0000ff" text-anchor="middle" stroke="#0000ff" stroke-width="0.15" >[31.5&quot;]</text>
<text transform="translate(763.30,487.50) scale(1,1.06)" font-size="14.6" fill="#0000ff" text-anchor="middle" stroke="#0000ff" stroke-width="0.15" >101.60cm</text>
<text transform="translate(763.30,506.00) scale(1,1.06)" font-size="14.6" fill="#0000ff" text-anchor="middle" stroke="#0000ff" stroke-width="0.15" >[40.0&quot;]</text>
<line x1="420.00" y1="186.00" x2="420.00" y2="300.70" stroke="#0000ff" stroke-width="1.15"/>
<line x1="420.00" y1="334.60" x2="420.00" y2="444.00" stroke="#0000ff" stroke-width="1.15"/>
<polygon points="420.00,186.00 421.88,192.22 422.50,197.30 417.50,197.30 418.12,192.22" fill="#0000ff"/>
<polygon points="420.00,444.00 418.12,437.79 417.50,432.70 422.50,432.70 421.88,437.79" fill="#0000ff"/>
<text transform="translate(420.00,311.50) scale(1,1.06)" font-size="14.6" fill="#0000ff" text-anchor="middle" stroke="#0000ff" stroke-width="0.15" >110.50cm</text>
<text transform="translate(420.00,330.00) scale(1,1.06)" font-size="14.6" fill="#0000ff" text-anchor="middle" stroke="#0000ff" stroke-width="0.15" >[43.5&quot;]</text>
<line x1="136.60" y1="550.60" x2="136.60" y2="644.50" stroke="#0000ff" stroke-width="1.15"/>
<line x1="703.70" y1="550.60" x2="703.70" y2="644.50" stroke="#0000ff" stroke-width="1.15"/>
<line x1="136.60" y1="640.80" x2="384.60" y2="640.80" stroke="#0000ff" stroke-width="1.15"/>
<line x1="455.00" y1="640.80" x2="703.70" y2="640.80" stroke="#0000ff" stroke-width="1.15"/>
<polygon points="136.60,640.80 142.81,638.92 147.90,638.30 147.90,643.30 142.81,642.67" fill="#0000ff"/>
<polygon points="703.70,640.80 697.49,642.67 692.40,643.30 692.40,638.30 697.49,638.92" fill="#0000ff"/>
<text transform="translate(420.00,636.50) scale(1,1.06)" font-size="14.6" fill="#0000ff" text-anchor="middle" stroke="#0000ff" stroke-width="0.15" >243.80cm</text>
<text transform="translate(420.00,654.80) scale(1,1.06)" font-size="14.6" fill="#0000ff" text-anchor="middle" stroke="#0000ff" stroke-width="0.15" >[96.0&quot;]</text>
<line x1="126.00" y1="720.10" x2="394.00" y2="720.10" stroke="#0000ff" stroke-width="1.15"/>
<line x1="463.90" y1="720.10" x2="724.50" y2="720.10" stroke="#0000ff" stroke-width="1.15"/>
<polygon points="136.60,720.10 142.81,718.23 147.90,717.60 147.90,722.60 142.81,721.98" fill="#0000ff"/>
<polygon points="180.70,720.10 174.48,721.98 169.40,722.60 169.40,717.60 174.48,718.23" fill="#0000ff"/>
<polygon points="180.70,720.10 186.91,718.23 192.00,717.60 192.00,722.60 186.91,721.98" fill="#0000ff"/>
<polygon points="677.00,720.10 670.78,721.98 665.70,722.60 665.70,717.60 670.78,718.23" fill="#0000ff"/>
<polygon points="703.70,720.10 709.92,718.23 715.00,717.60 715.00,722.60 709.92,721.98" fill="#0000ff"/>
<line x1="136.60" y1="716.30" x2="136.60" y2="1048.90" stroke="#0000ff" stroke-width="1.15"/>
<line x1="180.70" y1="716.30" x2="180.70" y2="747.70" stroke="#0000ff" stroke-width="1.15"/>
<line x1="677.00" y1="716.30" x2="677.00" y2="747.70" stroke="#0000ff" stroke-width="1.15"/>
<line x1="703.70" y1="716.30" x2="703.70" y2="1048.90" stroke="#0000ff" stroke-width="1.15"/>
<text transform="translate(96.00,715.80) scale(1,1.06)" font-size="14.6" fill="#0000ff" text-anchor="middle" stroke="#0000ff" stroke-width="0.15" >19.10cm</text>
<text transform="translate(96.00,734.10) scale(1,1.06)" font-size="14.6" fill="#0000ff" text-anchor="middle" stroke="#0000ff" stroke-width="0.15" >[7.5&quot;]</text>
<text transform="translate(429.00,715.80) scale(1,1.06)" font-size="14.6" fill="#0000ff" text-anchor="middle" stroke="#0000ff" stroke-width="0.15" >213.40cm</text>
<text transform="translate(429.00,734.10) scale(1,1.06)" font-size="14.6" fill="#0000ff" text-anchor="middle" stroke="#0000ff" stroke-width="0.15" >[84.0&quot;]</text>
<text transform="translate(754.50,715.80) scale(1,1.06)" font-size="14.6" fill="#0000ff" text-anchor="middle" stroke="#0000ff" stroke-width="0.15" >11.40cm</text>
<text transform="translate(754.50,734.10) scale(1,1.06)" font-size="14.6" fill="#0000ff" text-anchor="middle" stroke="#0000ff" stroke-width="0.15" >[4.5&quot;]</text>
<line x1="136.60" y1="986.60" x2="385.40" y2="986.60" stroke="#0000ff" stroke-width="1.15"/>
<line x1="454.80" y1="986.60" x2="703.70" y2="986.60" stroke="#0000ff" stroke-width="1.15"/>
<polygon points="136.60,986.60 142.81,984.73 147.90,984.10 147.90,989.10 142.81,988.48" fill="#0000ff"/>
<polygon points="703.70,986.60 697.49,988.48 692.40,989.10 692.40,984.10 697.49,984.73" fill="#0000ff"/>
<text transform="translate(420.00,982.30) scale(1,1.06)" font-size="14.6" fill="#0000ff" text-anchor="middle" stroke="#0000ff" stroke-width="0.15" >243.80cm</text>
<text transform="translate(420.00,1000.60) scale(1,1.06)" font-size="14.6" fill="#0000ff" text-anchor="middle" stroke="#0000ff" stroke-width="0.15" >[96.0&quot;]</text>
<line x1="44.60" y1="750.70" x2="177.90" y2="750.70" stroke="#0000ff" stroke-width="1.15"/>
<line x1="44.60" y1="1281.90" x2="169.00" y2="1281.90" stroke="#0000ff" stroke-width="1.15"/>
<line x1="48.10" y1="750.70" x2="48.10" y2="998.00" stroke="#0000ff" stroke-width="1.15"/>
<line x1="48.10" y1="1033.50" x2="48.10" y2="1281.90" stroke="#0000ff" stroke-width="1.15"/>
<polygon points="48.10,750.70 49.98,756.92 50.60,762.00 45.60,762.00 46.23,756.92" fill="#0000ff"/>
<polygon points="48.10,1281.90 46.23,1275.69 45.60,1270.60 50.60,1270.60 49.98,1275.69" fill="#0000ff"/>
<text transform="translate(48.10,1011.50) scale(1,1.06)" font-size="14.6" fill="#0000ff" text-anchor="middle" stroke="#0000ff" stroke-width="0.15" >228.60cm</text>
<text transform="translate(48.10,1030.00) scale(1,1.06)" font-size="14.6" fill="#0000ff" text-anchor="middle" stroke="#0000ff" stroke-width="0.15" >[90.0&quot;]</text>
<line x1="96.00" y1="1033.30" x2="167.90" y2="1033.30" stroke="#0000ff" stroke-width="1.15"/>
<line x1="99.50" y1="1033.30" x2="99.50" y2="1140.00" stroke="#0000ff" stroke-width="1.15"/>
<line x1="99.50" y1="1175.50" x2="99.50" y2="1281.90" stroke="#0000ff" stroke-width="1.15"/>
<polygon points="99.50,1033.30 101.38,1039.51 102.00,1044.60 97.00,1044.60 97.62,1039.51" fill="#0000ff"/>
<polygon points="99.50,1281.90 97.62,1275.69 97.00,1270.60 102.00,1270.60 101.38,1275.69" fill="#0000ff"/>
<text transform="translate(99.50,1153.50) scale(1,1.06)" font-size="14.6" fill="#0000ff" text-anchor="middle" stroke="#0000ff" stroke-width="0.15" >106.70cm</text>
<text transform="translate(99.50,1172.00) scale(1,1.06)" font-size="14.6" fill="#0000ff" text-anchor="middle" stroke="#0000ff" stroke-width="0.15" >[42.0&quot;]</text>
<line x1="680.00" y1="750.70" x2="768.30" y2="750.70" stroke="#0000ff" stroke-width="1.15"/>
<line x1="686.90" y1="1042.30" x2="768.30" y2="1042.30" stroke="#0000ff" stroke-width="1.15"/>
<line x1="707.00" y1="1281.90" x2="768.30" y2="1281.90" stroke="#0000ff" stroke-width="1.15"/>
<line x1="765.00" y1="750.70" x2="765.00" y2="879.00" stroke="#0000ff" stroke-width="1.15"/>
<line x1="765.00" y1="914.00" x2="765.00" y2="1042.30" stroke="#0000ff" stroke-width="1.15"/>
<line x1="765.00" y1="1042.30" x2="765.00" y2="1144.00" stroke="#0000ff" stroke-width="1.15"/>
<line x1="765.00" y1="1179.50" x2="765.00" y2="1281.90" stroke="#0000ff" stroke-width="1.15"/>
<polygon points="765.00,750.70 766.88,756.92 767.50,762.00 762.50,762.00 763.12,756.92" fill="#0000ff"/>
<polygon points="765.00,1042.30 763.12,1036.09 762.50,1031.00 767.50,1031.00 766.88,1036.09" fill="#0000ff"/>
<polygon points="765.00,1042.30 766.88,1048.51 767.50,1053.60 762.50,1053.60 763.12,1048.51" fill="#0000ff"/>
<polygon points="765.00,1281.90 763.12,1275.69 762.50,1270.60 767.50,1270.60 766.88,1275.69" fill="#0000ff"/>
<text transform="translate(765.00,892.00) scale(1,1.06)" font-size="14.6" fill="#0000ff" text-anchor="middle" stroke="#0000ff" stroke-width="0.15" >125.50cm</text>
<text transform="translate(765.00,910.50) scale(1,1.06)" font-size="14.6" fill="#0000ff" text-anchor="middle" stroke="#0000ff" stroke-width="0.15" >[49.4&quot;]</text>
<text transform="translate(765.00,1157.00) scale(1,1.06)" font-size="14.6" fill="#0000ff" text-anchor="middle" stroke="#0000ff" stroke-width="0.15" >103.10cm</text>
<text transform="translate(765.00,1175.50) scale(1,1.06)" font-size="14.6" fill="#0000ff" text-anchor="middle" stroke="#0000ff" stroke-width="0.15" >[40.6&quot;]</text>
<line x1="183.70" y1="1236.00" x2="183.70" y2="1328.50" stroke="#0000ff" stroke-width="1.15"/>
<line x1="656.10" y1="1236.00" x2="656.10" y2="1328.50" stroke="#0000ff" stroke-width="1.15"/>
<line x1="183.70" y1="1325.20" x2="385.00" y2="1325.20" stroke="#0000ff" stroke-width="1.15"/>
<line x1="454.50" y1="1325.20" x2="656.10" y2="1325.20" stroke="#0000ff" stroke-width="1.15"/>
<polygon points="183.70,1325.20 189.91,1323.33 195.00,1322.70 195.00,1327.70 189.91,1327.08" fill="#0000ff"/>
<polygon points="656.10,1325.20 649.88,1327.08 644.80,1327.70 644.80,1322.70 649.88,1323.33" fill="#0000ff"/>
<text transform="translate(419.70,1320.90) scale(1,1.06)" font-size="14.6" fill="#0000ff" text-anchor="middle" stroke="#0000ff" stroke-width="0.15" >203.20cm</text>
<text transform="translate(419.70,1339.20) scale(1,1.06)" font-size="14.6" fill="#0000ff" text-anchor="middle" stroke="#0000ff" stroke-width="0.15" >[80.0&quot;]</text>
<line x1="1017.30" y1="15.00" x2="1017.30" y2="37.60" stroke="#0000ff" stroke-width="1.15"/>
<line x1="1123.50" y1="15.00" x2="1123.50" y2="37.60" stroke="#0000ff" stroke-width="1.15"/>
<line x1="1017.30" y1="18.00" x2="1040.50" y2="18.00" stroke="#0000ff" stroke-width="1.15"/>
<line x1="1100.50" y1="18.00" x2="1123.50" y2="18.00" stroke="#0000ff" stroke-width="1.15"/>
<polygon points="1017.30,18.00 1023.51,16.12 1028.60,15.50 1028.60,20.50 1023.51,19.88" fill="#0000ff"/>
<polygon points="1123.50,18.00 1117.29,19.88 1112.20,20.50 1112.20,15.50 1117.29,16.12" fill="#0000ff"/>
<text transform="translate(1070.40,13.70) scale(1,1.06)" font-size="14.6" fill="#0000ff" text-anchor="middle" stroke="#0000ff" stroke-width="0.15" >45.70cm</text>
<text transform="translate(1070.40,32.00) scale(1,1.06)" font-size="14.6" fill="#0000ff" text-anchor="middle" stroke="#0000ff" stroke-width="0.15" >[18.0&quot;]</text>
<line x1="959.70" y1="40.30" x2="1013.50" y2="40.30" stroke="#0000ff" stroke-width="1.15"/>
<line x1="959.70" y1="332.30" x2="1013.50" y2="332.30" stroke="#0000ff" stroke-width="1.15"/>
<line x1="959.70" y1="571.90" x2="1013.50" y2="571.90" stroke="#0000ff" stroke-width="1.15"/>
<line x1="962.70" y1="40.30" x2="962.70" y2="169.00" stroke="#0000ff" stroke-width="1.15"/>
<line x1="962.70" y1="205.50" x2="962.70" y2="332.30" stroke="#0000ff" stroke-width="1.15"/>
<line x1="962.70" y1="332.30" x2="962.70" y2="435.00" stroke="#0000ff" stroke-width="1.15"/>
<line x1="962.70" y1="471.50" x2="962.70" y2="571.90" stroke="#0000ff" stroke-width="1.15"/>
<polygon points="962.70,40.30 964.58,46.52 965.20,51.60 960.20,51.60 960.83,46.52" fill="#0000ff"/>
<polygon points="962.70,332.30 960.83,326.09 960.20,321.00 965.20,321.00 964.58,326.09" fill="#0000ff"/>
<polygon points="962.70,332.30 964.58,338.51 965.20,343.60 960.20,343.60 960.83,338.51" fill="#0000ff"/>
<polygon points="962.70,571.90 960.83,565.68 960.20,560.60 965.20,560.60 964.58,565.68" fill="#0000ff"/>
<text transform="translate(962.70,182.50) scale(1,1.06)" font-size="14.6" fill="#0000ff" text-anchor="middle" stroke="#0000ff" stroke-width="0.15" >125.50cm</text>
<text transform="translate(962.70,201.00) scale(1,1.06)" font-size="14.6" fill="#0000ff" text-anchor="middle" stroke="#0000ff" stroke-width="0.15" >[49.4&quot;]</text>
<text transform="translate(962.70,448.50) scale(1,1.06)" font-size="14.6" fill="#0000ff" text-anchor="middle" stroke="#0000ff" stroke-width="0.15" >103.10cm</text>
<text transform="translate(962.70,467.00) scale(1,1.06)" font-size="14.6" fill="#0000ff" text-anchor="middle" stroke="#0000ff" stroke-width="0.15" >[40.6&quot;]</text>
<line x1="1017.30" y1="244.30" x2="1017.30" y2="303.00" stroke="#0000ff" stroke-width="1.15"/>
<line x1="1121.00" y1="244.30" x2="1121.00" y2="320.70" stroke="#0000ff" stroke-width="1.15"/>
<line x1="1545.70" y1="244.30" x2="1545.70" y2="339.50" stroke="#0000ff" stroke-width="1.15"/>
<line x1="1017.30" y1="247.60" x2="1038.80" y2="247.60" stroke="#0000ff" stroke-width="1.15"/>
<line x1="1099.50" y1="247.60" x2="1121.00" y2="247.60" stroke="#0000ff" stroke-width="1.15"/>
<line x1="1121.00" y1="247.60" x2="1298.40" y2="247.60" stroke="#0000ff" stroke-width="1.15"/>
<line x1="1366.00" y1="247.60" x2="1545.70" y2="247.60" stroke="#0000ff" stroke-width="1.15"/>
<polygon points="1017.30,247.60 1023.51,245.72 1028.60,245.10 1028.60,250.10 1023.51,249.47" fill="#0000ff"/>
<polygon points="1121.00,247.60 1114.79,249.47 1109.70,250.10 1109.70,245.10 1114.79,245.72" fill="#0000ff"/>
<polygon points="1121.00,247.60 1127.21,245.72 1132.30,245.10 1132.30,250.10 1127.21,249.47" fill="#0000ff"/>
<polygon points="1545.70,247.60 1539.49,249.47 1534.40,250.10 1534.40,245.10 1539.49,245.72" fill="#0000ff"/>
<text transform="translate(1069.70,243.30) scale(1,1.06)" font-size="14.6" fill="#0000ff" text-anchor="middle" stroke="#0000ff" stroke-width="0.15" >44.70cm</text>
<text transform="translate(1069.70,261.60) scale(1,1.06)" font-size="14.6" fill="#0000ff" text-anchor="middle" stroke="#0000ff" stroke-width="0.15" >[17.6&quot;]</text>
<text transform="translate(1332.00,243.30) scale(1,1.06)" font-size="14.6" fill="#0000ff" text-anchor="middle" stroke="#0000ff" stroke-width="0.15" >182.60cm</text>
<text transform="translate(1332.00,261.60) scale(1,1.06)" font-size="14.6" fill="#0000ff" text-anchor="middle" stroke="#0000ff" stroke-width="0.15" >[71.9&quot;]</text>
<line x1="1516.00" y1="323.70" x2="1621.60" y2="323.70" stroke="#0000ff" stroke-width="1.15"/>
<line x1="1513.00" y1="571.90" x2="1622.00" y2="571.90" stroke="#0000ff" stroke-width="1.15"/>
<line x1="1618.40" y1="323.70" x2="1618.40" y2="429.50" stroke="#0000ff" stroke-width="1.15"/>
<line x1="1618.40" y1="466.00" x2="1618.40" y2="571.90" stroke="#0000ff" stroke-width="1.15"/>
<polygon points="1618.40,323.70 1620.28,329.91 1620.90,335.00 1615.90,335.00 1616.53,329.91" fill="#0000ff"/>
<polygon points="1618.40,571.90 1616.53,565.68 1615.90,560.60 1620.90,560.60 1620.28,565.68" fill="#0000ff"/>
<text transform="translate(1618.40,443.00) scale(1,1.06)" font-size="14.6" fill="#0000ff" text-anchor="middle" stroke="#0000ff" stroke-width="0.15" >106.70cm</text>
<text transform="translate(1618.40,461.50) scale(1,1.06)" font-size="14.6" fill="#0000ff" text-anchor="middle" stroke="#0000ff" stroke-width="0.15" >[42.0&quot;]</text>
<line x1="1183.20" y1="716.30" x2="1183.20" y2="1030.00" stroke="#0000ff" stroke-width="1.15"/>
<line x1="1368.90" y1="716.30" x2="1368.90" y2="747.70" stroke="#0000ff" stroke-width="1.15"/>
<line x1="1475.40" y1="716.30" x2="1475.40" y2="747.70" stroke="#0000ff" stroke-width="1.15"/>
<line x1="1183.20" y1="720.10" x2="1245.80" y2="720.10" stroke="#0000ff" stroke-width="1.15"/>
<line x1="1307.20" y1="720.10" x2="1368.90" y2="720.10" stroke="#0000ff" stroke-width="1.15"/>
<line x1="1368.90" y1="720.10" x2="1391.50" y2="720.10" stroke="#0000ff" stroke-width="1.15"/>
<line x1="1452.50" y1="720.10" x2="1475.40" y2="720.10" stroke="#0000ff" stroke-width="1.15"/>
<polygon points="1183.20,720.10 1189.41,718.23 1194.50,717.60 1194.50,722.60 1189.41,721.98" fill="#0000ff"/>
<polygon points="1368.90,720.10 1362.69,721.98 1357.60,722.60 1357.60,717.60 1362.69,718.23" fill="#0000ff"/>
<polygon points="1368.90,720.10 1375.12,718.23 1380.20,717.60 1380.20,722.60 1375.12,721.98" fill="#0000ff"/>
<polygon points="1475.40,720.10 1469.19,721.98 1464.10,722.60 1464.10,717.60 1469.19,718.23" fill="#0000ff"/>
<text transform="translate(1275.90,715.80) scale(1,1.06)" font-size="14.6" fill="#0000ff" text-anchor="middle" stroke="#0000ff" stroke-width="0.15" >80.00cm</text>
<text transform="translate(1275.90,734.10) scale(1,1.06)" font-size="14.6" fill="#0000ff" text-anchor="middle" stroke="#0000ff" stroke-width="0.15" >[31.5&quot;]</text>
<text transform="translate(1422.00,715.80) scale(1,1.06)" font-size="14.6" fill="#0000ff" text-anchor="middle" stroke="#0000ff" stroke-width="0.15" >45.70cm</text>
<text transform="translate(1422.00,734.10) scale(1,1.06)" font-size="14.6" fill="#0000ff" text-anchor="middle" stroke="#0000ff" stroke-width="0.15" >[18.0&quot;]</text>
<line x1="1478.40" y1="750.70" x2="1561.80" y2="750.70" stroke="#0000ff" stroke-width="1.15"/>
<line x1="1478.40" y1="1042.30" x2="1561.80" y2="1042.30" stroke="#0000ff" stroke-width="1.15"/>
<line x1="1478.40" y1="1281.90" x2="1561.80" y2="1281.90" stroke="#0000ff" stroke-width="1.15"/>
<line x1="1558.60" y1="750.70" x2="1558.60" y2="876.00" stroke="#0000ff" stroke-width="1.15"/>
<line x1="1558.60" y1="915.00" x2="1558.60" y2="1042.30" stroke="#0000ff" stroke-width="1.15"/>
<line x1="1558.60" y1="1042.30" x2="1558.60" y2="1144.00" stroke="#0000ff" stroke-width="1.15"/>
<line x1="1558.60" y1="1179.50" x2="1558.60" y2="1281.90" stroke="#0000ff" stroke-width="1.15"/>
<polygon points="1558.60,750.70 1560.47,756.92 1561.10,762.00 1556.10,762.00 1556.72,756.92" fill="#0000ff"/>
<polygon points="1558.60,1042.30 1556.72,1036.09 1556.10,1031.00 1561.10,1031.00 1560.47,1036.09" fill="#0000ff"/>
<polygon points="1558.60,1042.30 1560.47,1048.51 1561.10,1053.60 1556.10,1053.60 1556.72,1048.51" fill="#0000ff"/>
<polygon points="1558.60,1281.90 1556.72,1275.69 1556.10,1270.60 1561.10,1270.60 1560.47,1275.69" fill="#0000ff"/>
<text transform="translate(1558.60,892.00) scale(1,1.06)" font-size="14.6" fill="#0000ff" text-anchor="middle" stroke="#0000ff" stroke-width="0.15" >125.50cm</text>
<text transform="translate(1558.60,910.50) scale(1,1.06)" font-size="14.6" fill="#0000ff" text-anchor="middle" stroke="#0000ff" stroke-width="0.15" >[49.4&quot;]</text>
<text transform="translate(1558.60,1157.00) scale(1,1.06)" font-size="14.6" fill="#0000ff" text-anchor="middle" stroke="#0000ff" stroke-width="0.15" >103.10cm</text>
<text transform="translate(1558.60,1175.50) scale(1,1.06)" font-size="14.6" fill="#0000ff" text-anchor="middle" stroke="#0000ff" stroke-width="0.15" >[40.6&quot;]</text>
<line x1="1372.40" y1="891.00" x2="1404.00" y2="891.00" stroke="#0000ff" stroke-width="1.15"/>
<line x1="1465.20" y1="891.00" x2="1496.70" y2="891.00" stroke="#0000ff" stroke-width="1.15"/>
<polygon points="1393.20,891.00 1386.99,892.88 1381.90,893.50 1381.90,888.50 1386.99,889.12" fill="#0000ff"/>
<polygon points="1475.40,891.00 1481.62,889.12 1486.70,888.50 1486.70,893.50 1481.62,892.88" fill="#0000ff"/>
<text transform="translate(1434.60,886.70) scale(1,1.06)" font-size="14.6" fill="#0000ff" text-anchor="middle" stroke="#0000ff" stroke-width="0.15" >35.00cm</text>
<text transform="translate(1434.60,905.00) scale(1,1.06)" font-size="14.6" fill="#0000ff" text-anchor="middle" stroke="#0000ff" stroke-width="0.15" >[13.8&quot;]</text>
<line x1="946.40" y1="983.20" x2="946.40" y2="1047.60" stroke="#0000ff" stroke-width="1.15"/>
<line x1="1371.40" y1="983.20" x2="1371.40" y2="1030.00" stroke="#0000ff" stroke-width="1.15"/>
<line x1="946.40" y1="986.90" x2="1030.30" y2="986.90" stroke="#0000ff" stroke-width="1.15"/>
<line x1="1099.20" y1="986.90" x2="1183.20" y2="986.90" stroke="#0000ff" stroke-width="1.15"/>
<line x1="1183.20" y1="986.90" x2="1245.80" y2="986.90" stroke="#0000ff" stroke-width="1.15"/>
<line x1="1308.40" y1="986.90" x2="1371.40" y2="986.90" stroke="#0000ff" stroke-width="1.15"/>
<line x1="1371.40" y1="986.90" x2="1391.00" y2="986.90" stroke="#0000ff" stroke-width="1.15"/>
<line x1="1454.50" y1="986.90" x2="1475.40" y2="986.90" stroke="#0000ff" stroke-width="1.15"/>
<polygon points="946.40,986.90 952.62,985.02 957.70,984.40 957.70,989.40 952.62,988.77" fill="#0000ff"/>
<polygon points="1183.20,986.90 1176.99,988.77 1171.90,989.40 1171.90,984.40 1176.99,985.02" fill="#0000ff"/>
<polygon points="1183.20,986.90 1189.41,985.02 1194.50,984.40 1194.50,989.40 1189.41,988.77" fill="#0000ff"/>
<polygon points="1371.40,986.90 1365.19,988.77 1360.10,989.40 1360.10,984.40 1365.19,985.02" fill="#0000ff"/>
<polygon points="1371.40,986.90 1377.62,985.02 1382.70,984.40 1382.70,989.40 1377.62,988.77" fill="#0000ff"/>
<polygon points="1475.40,986.90 1469.19,988.77 1464.10,989.40 1464.10,984.40 1469.19,985.02" fill="#0000ff"/>
<line x1="1475.40" y1="983.20" x2="1475.40" y2="1042.00" stroke="#0000ff" stroke-width="1.15"/>
<text transform="translate(1064.70,982.60) scale(1,1.06)" font-size="14.6" fill="#0000ff" text-anchor="middle" stroke="#0000ff" stroke-width="0.15" >101.60cm</text>
<text transform="translate(1064.70,1000.90) scale(1,1.06)" font-size="14.6" fill="#0000ff" text-anchor="middle" stroke="#0000ff" stroke-width="0.15" >[40.0&quot;]</text>
<text transform="translate(1277.10,982.60) scale(1,1.06)" font-size="14.6" fill="#0000ff" text-anchor="middle" stroke="#0000ff" stroke-width="0.15" >81.00cm</text>
<text transform="translate(1277.10,1000.90) scale(1,1.06)" font-size="14.6" fill="#0000ff" text-anchor="middle" stroke="#0000ff" stroke-width="0.15" >[31.9&quot;]</text>
<text transform="translate(1423.30,982.60) scale(1,1.06)" font-size="14.6" fill="#0000ff" text-anchor="middle" stroke="#0000ff" stroke-width="0.15" >44.70cm</text>
<text transform="translate(1423.30,1000.90) scale(1,1.06)" font-size="14.6" fill="#0000ff" text-anchor="middle" stroke="#0000ff" stroke-width="0.15" >[17.6&quot;]</text>
<line x1="899.50" y1="1033.30" x2="977.70" y2="1033.30" stroke="#0000ff" stroke-width="1.15"/>
<line x1="899.50" y1="1281.90" x2="979.00" y2="1281.90" stroke="#0000ff" stroke-width="1.15"/>
<line x1="902.60" y1="1033.30" x2="902.60" y2="1140.00" stroke="#0000ff" stroke-width="1.15"/>
<line x1="902.60" y1="1175.50" x2="902.60" y2="1281.90" stroke="#0000ff" stroke-width="1.15"/>
<polygon points="902.60,1033.30 904.48,1039.51 905.10,1044.60 900.10,1044.60 900.73,1039.51" fill="#0000ff"/>
<polygon points="902.60,1281.90 900.73,1275.69 900.10,1270.60 905.10,1270.60 904.48,1275.69" fill="#0000ff"/>
<text transform="translate(902.60,1153.50) scale(1,1.06)" font-size="14.6" fill="#0000ff" text-anchor="middle" stroke="#0000ff" stroke-width="0.15" >106.70cm</text>
<text transform="translate(902.60,1172.00) scale(1,1.06)" font-size="14.6" fill="#0000ff" text-anchor="middle" stroke="#0000ff" stroke-width="0.15" >[42.0&quot;]</text>
<line x1="994.00" y1="1236.00" x2="994.00" y2="1328.50" stroke="#0000ff" stroke-width="1.15"/>
<line x1="1183.20" y1="1285.70" x2="1183.20" y2="1328.50" stroke="#0000ff" stroke-width="1.15"/>
<line x1="1368.90" y1="1285.70" x2="1368.90" y2="1328.50" stroke="#0000ff" stroke-width="1.15"/>
<line x1="1475.40" y1="1285.70" x2="1475.40" y2="1328.50" stroke="#0000ff" stroke-width="1.15"/>
<line x1="994.00" y1="1325.20" x2="1057.00" y2="1325.20" stroke="#0000ff" stroke-width="1.15"/>
<line x1="1120.00" y1="1325.20" x2="1183.20" y2="1325.20" stroke="#0000ff" stroke-width="1.15"/>
<line x1="1368.90" y1="1325.20" x2="1391.50" y2="1325.20" stroke="#0000ff" stroke-width="1.15"/>
<line x1="1452.50" y1="1325.20" x2="1475.40" y2="1325.20" stroke="#0000ff" stroke-width="1.15"/>
<polygon points="994.00,1325.20 1000.22,1323.33 1005.30,1322.70 1005.30,1327.70 1000.22,1327.08" fill="#0000ff"/>
<polygon points="1183.20,1325.20 1176.99,1327.08 1171.90,1327.70 1171.90,1322.70 1176.99,1323.33" fill="#0000ff"/>
<polygon points="1368.90,1325.20 1375.12,1323.33 1380.20,1322.70 1380.20,1327.70 1375.12,1327.08" fill="#0000ff"/>
<polygon points="1475.40,1325.20 1469.19,1327.08 1464.10,1327.70 1464.10,1322.70 1469.19,1323.33" fill="#0000ff"/>
<text transform="translate(1088.50,1320.90) scale(1,1.06)" font-size="14.6" fill="#0000ff" text-anchor="middle" stroke="#0000ff" stroke-width="0.15" >81.30cm</text>
<text transform="translate(1088.50,1339.20) scale(1,1.06)" font-size="14.6" fill="#0000ff" text-anchor="middle" stroke="#0000ff" stroke-width="0.15" >[32.0&quot;]</text>
<text transform="translate(1422.00,1320.90) scale(1,1.06)" font-size="14.6" fill="#0000ff" text-anchor="middle" stroke="#0000ff" stroke-width="0.15" >45.70cm</text>
<text transform="translate(1422.00,1339.20) scale(1,1.06)" font-size="14.6" fill="#0000ff" text-anchor="middle" stroke="#0000ff" stroke-width="0.15" >[18.0&quot;]</text>
<text transform="translate(1600.60,44.60) scale(1,1.06)" font-size="29.6" fill="#000" text-anchor="start" >BAR WNL193</text>
<rect x="1389.5" y="1350" width="50" height="11" fill="#b9b9b9"/>
<rect x="1389.5" y="1363" width="50" height="11" fill="#999"/>
<rect x="1389.5" y="1376" width="50" height="11" fill="#777"/>
<rect x="1389.5" y="1389" width="50" height="11" fill="#000"/>
<text x="1445" y="1393.5" font-family="&quot;Liberation Serif&quot;, serif" font-weight="bold" font-size="55" fill="#000" textLength="348" lengthAdjust="spacingAndGlyphs" stroke="#000" stroke-width="0.8">WoodnLuxury</text>
</svg></body></html>
